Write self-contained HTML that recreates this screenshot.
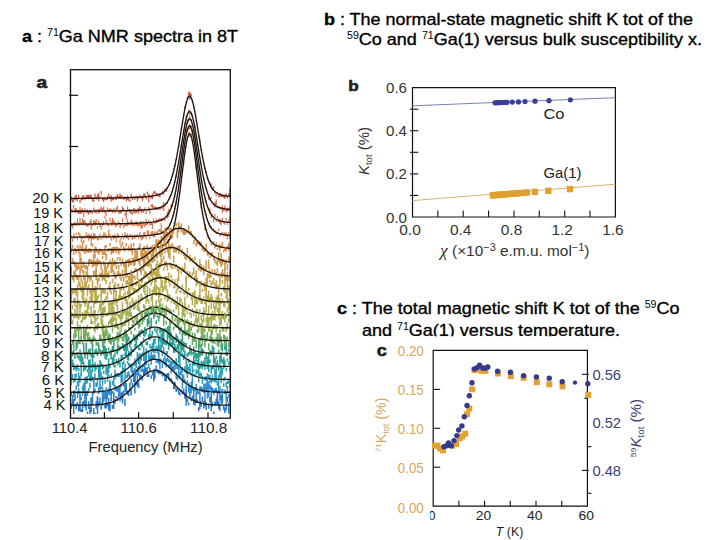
<!DOCTYPE html>
<html><head><meta charset="utf-8"><style>
html,body{margin:0;padding:0;background:#fff;}
svg{display:block;font-family:"Liberation Sans", sans-serif;}
</style></head><body>
<svg width="720" height="540" viewBox="0 0 720 540">
<defs><clipPath id="clipA"><rect x="70" y="60" width="161" height="354"/></clipPath></defs>
<text x="22" y="41.7" font-size="17" stroke="#000" stroke-width="0.35" textLength="216" lengthAdjust="spacingAndGlyphs"><tspan font-weight="bold">a</tspan> : <tspan font-size="10" dy="-6" stroke-width="0">71</tspan><tspan dy="6">Ga NMR spectra in 8T</tspan></text>
<text x="324" y="25" font-size="17" stroke="#000" stroke-width="0.35" textLength="369" lengthAdjust="spacingAndGlyphs"><tspan font-weight="bold">b</tspan> : The normal-state magnetic shift K tot of the</text>
<text x="347" y="45.2" font-size="17" stroke="#000" stroke-width="0.35" textLength="355" lengthAdjust="spacingAndGlyphs"><tspan font-size="10" dy="-6" stroke-width="0">59</tspan><tspan dy="6">Co and </tspan><tspan font-size="10" dy="-6" stroke-width="0">71</tspan><tspan dy="6">Ga(1) versus bulk susceptibility x.</tspan></text>
<text x="337" y="314.2" font-size="17" stroke="#000" stroke-width="0.35" textLength="342.5" lengthAdjust="spacingAndGlyphs"><tspan font-weight="bold">c</tspan> : The total magnetic shift K tot of the <tspan font-size="10" dy="-6" stroke-width="0">59</tspan><tspan dy="6">Co</tspan></text>
<text x="362" y="335.6" font-size="17" stroke="#000" stroke-width="0.35" textLength="258" lengthAdjust="spacingAndGlyphs">and <tspan font-size="10" dy="-6" stroke-width="0">71</tspan><tspan dy="6">Ga(1) versus temperature.</tspan></text>
<g clip-path="url(#clipA)">
<path d="M71.2,196.4V200.8M72.5,198.4V202.3M73.7,199.3V202.6M75.0,195.7V200.0M76.2,194.3V200.4M77.5,198.9V201.6M78.7,194.9V198.4M80.0,199.7V202.9M81.2,197.8V200.5M82.5,195.6V200.1M83.7,195.2V198.0M85.0,197.3V200.3M86.2,194.7V198.4M87.5,194.7V198.1M88.7,194.7V199.3M90.0,194.4V198.1M91.2,195.0V199.2M92.5,198.6V201.3M93.7,199.2V202.0M95.0,193.4V197.4M96.2,196.7V199.6M97.5,194.3V197.6M98.7,193.3V201.2M100.0,196.2V198.9M101.2,190.9V194.8M102.5,197.6V200.4M103.7,197.3V201.9M105.0,197.4V199.9M106.2,198.1V200.5M107.5,196.1V199.9M108.7,193.4V196.5M110.0,196.6V199.3M111.2,194.9V201.8M112.5,197.6V200.3M113.7,198.2V200.6M115.0,196.7V199.3M116.2,195.8V200.1M117.5,194.1V198.0M118.7,196.0V198.7M120.0,193.2V198.7M121.2,194.9V199.3M122.5,195.7V198.3M123.7,196.9V200.2M125.0,196.6V198.9M126.2,197.8V201.6M127.5,195.4V199.9M128.7,196.4V200.8M129.9,199.5V201.9M131.2,193.4V198.1M132.4,197.6V200.2M133.7,196.2V198.4M134.9,196.5V200.0M136.2,195.7V198.3M137.4,196.6V201.7M138.7,197.0V199.3M139.9,194.4V197.5M141.2,196.3V198.4M142.4,196.6V201.3M143.7,193.6V198.4M144.9,193.5V196.6M146.2,196.0V199.5M147.4,191.5V194.6M148.7,194.0V202.4M149.9,195.3V197.5M151.2,195.7V198.5M152.4,193.6V199.3M153.7,191.4V193.7M154.9,190.7V194.1M156.2,193.0V195.4M157.4,193.2V195.5M158.7,194.3V196.7M159.9,193.2V197.3M161.2,193.6V195.3M162.4,191.1V194.1M163.7,191.7V194.8M164.9,188.7V191.3M166.2,189.0V191.9M167.4,186.9V189.3M168.7,184.4V185.9M169.9,182.3V183.7M171.2,179.2V180.8M172.4,174.7V176.4M173.7,168.3V169.3M174.9,164.7V166.7M176.2,158.8V159.8M177.4,152.5V153.3M178.7,145.9V147.2M179.9,136.8V138.1M181.2,127.4V129.7M182.4,121.5V122.8M183.7,113.9V115.6M184.9,105.8V108.9M186.2,101.3V102.5M187.4,96.5V99.0M188.7,91.5V97.3M189.9,92.2V100.3M191.2,93.5V96.1M192.4,101.1V102.3M193.7,106.6V107.6M194.9,110.4V111.3M196.2,120.1V121.4M197.4,128.1V129.2M198.7,135.3V137.5M199.9,139.0V142.7M201.2,150.0V151.1M202.4,156.2V157.3M203.7,162.2V163.2M204.9,167.8V169.0M206.2,171.1V172.7M207.4,177.4V180.1M208.7,181.4V183.3M209.9,183.0V184.5M211.2,183.5V188.4M212.4,188.0V190.3M213.7,186.2V189.1M214.9,192.6V194.2M216.2,194.5V196.6M217.4,191.7V194.4M218.7,195.6V197.6M219.9,193.1V196.7M221.2,193.9V196.9M222.4,194.4V197.2M223.7,195.0V197.8M224.9,194.5V199.1M226.2,193.6V196.9M227.4,196.3V198.7M228.7,193.5V196.0M229.9,188.4V197.2" fill="none" stroke="#d45a40" stroke-width="1.2"/>
<polyline points="70.5,198.3 71.5,198.3 72.5,198.3 73.5,198.3 74.5,198.3 75.5,198.3 76.5,198.3 77.5,198.3 78.5,198.3 79.5,198.3 80.5,198.3 81.5,198.3 82.5,198.3 83.5,198.3 84.5,198.3 85.5,198.2 86.5,198.2 87.5,198.2 88.5,198.2 89.5,198.2 90.5,198.2 91.5,198.2 92.5,198.2 93.5,198.2 94.5,198.2 95.5,198.2 96.5,198.2 97.5,198.2 98.5,198.1 99.5,198.1 100.5,198.1 101.5,198.1 102.5,198.1 103.5,198.1 104.5,198.1 105.5,198.1 106.5,198.1 107.5,198.0 108.5,198.0 109.5,198.0 110.5,198.0 111.5,198.0 112.5,198.0 113.5,197.9 114.5,197.9 115.5,197.9 116.5,197.9 117.5,197.9 118.5,197.9 119.5,197.8 120.5,197.8 121.5,197.8 122.5,197.8 123.5,197.7 124.5,197.7 125.5,197.7 126.5,197.7 127.5,197.6 128.5,197.6 129.5,197.6 130.5,197.5 131.5,197.5 132.5,197.5 133.5,197.4 134.5,197.4 135.5,197.3 136.5,197.3 137.5,197.2 138.5,197.2 139.5,197.1 140.5,197.1 141.5,197.0 142.5,197.0 143.5,196.9 144.5,196.8 145.5,196.7 146.5,196.7 147.5,196.6 148.5,196.5 149.5,196.4 150.5,196.3 151.5,196.1 152.5,196.0 153.5,195.9 154.5,195.7 155.5,195.5 156.5,195.3 157.5,195.0 158.5,194.7 159.5,194.4 160.5,194.0 161.5,193.5 162.5,192.9 163.5,192.2 164.5,191.3 165.5,190.3 166.5,189.0 167.5,187.5 168.5,185.8 169.5,183.7 170.5,181.2 171.5,178.4 172.5,175.2 173.5,171.5 174.5,167.4 175.5,162.9 176.5,157.9 177.5,152.5 178.5,146.9 179.5,140.9 180.5,134.7 181.5,128.5 182.5,122.4 183.5,116.5 184.5,111.0 185.5,106.1 186.5,102.0 187.5,98.9 188.5,96.9 189.5,96.1 190.5,96.6 191.5,98.4 192.5,101.3 193.5,105.2 194.5,110.0 195.5,115.4 196.5,121.2 197.5,127.3 198.5,133.5 199.5,139.7 200.5,145.7 201.5,151.4 202.5,156.9 203.5,161.9 204.5,166.5 205.5,170.7 206.5,174.5 207.5,177.8 208.5,180.7 209.5,183.2 210.5,185.4 211.5,187.2 212.5,188.7 213.5,190.0 214.5,191.1 215.5,192.0 216.5,192.8 217.5,193.4 218.5,193.9 219.5,194.3 220.5,194.7 221.5,195.0 222.5,195.2 223.5,195.5 224.5,195.7 225.5,195.8 226.5,196.0 227.5,196.1 228.5,196.2 229.5,196.3 230.5,196.5" fill="none" stroke="#1e1410" stroke-width="1.35"/>
<path d="M71.2,208.9V212.3M72.5,209.2V212.5M73.7,204.9V208.6M75.0,207.9V213.1M76.2,208.3V212.5M77.5,210.6V213.2M78.7,209.9V213.9M80.0,207.1V213.9M81.2,209.6V214.2M82.5,208.6V212.8M83.7,210.7V217.3M85.0,208.2V211.9M86.2,209.9V213.3M87.5,209.2V213.0M88.7,211.3V215.1M90.0,209.8V213.4M91.2,210.0V212.9M92.5,211.5V214.3M93.7,207.6V211.1M95.0,209.5V212.8M96.2,209.8V213.7M97.5,209.3V211.9M98.7,209.0V213.7M100.0,208.7V212.8M101.2,206.6V210.9M102.5,208.3V212.5M103.7,206.5V210.8M105.0,210.1V213.5M106.2,212.6V215.8M107.5,207.4V209.9M108.7,209.6V212.2M110.0,208.2V210.9M111.2,209.0V211.7M112.5,209.7V213.0M113.7,208.2V211.9M115.0,210.5V213.6M116.2,207.4V211.3M117.5,205.7V209.8M118.7,210.7V213.4M120.0,209.2V213.6M121.2,210.3V213.6M122.5,206.3V210.7M123.7,208.1V210.5M125.0,212.9V215.4M126.2,209.9V219.2M127.5,206.5V211.7M128.7,208.9V211.2M129.9,208.9V213.2M131.2,211.1V213.8M132.4,212.2V214.7M133.7,208.1V213.1M134.9,208.8V213.7M136.2,210.4V213.0M137.4,208.8V212.5M138.7,207.4V214.1M139.9,205.9V210.2M141.2,208.5V213.2M142.4,209.5V212.1M143.7,209.9V212.9M144.9,207.3V210.6M146.2,211.2V214.1M147.4,209.0V211.2M148.7,207.1V210.5M149.9,208.2V213.8M151.2,204.8V207.0M152.4,203.9V208.1M153.7,206.6V208.7M154.9,206.1V208.4M156.2,207.1V210.5M157.4,207.3V209.8M158.7,207.7V209.6M159.9,206.8V210.1M161.2,206.8V209.0M162.4,205.2V208.4M163.7,202.1V211.1M164.9,204.9V206.7M166.2,202.3V204.8M167.4,201.7V204.1M168.7,198.1V199.8M169.9,195.8V197.1M171.2,194.2V195.9M172.4,191.3V192.3M173.7,185.5V186.9M174.9,181.2V182.5M176.2,174.7V177.6M177.4,168.6V169.6M178.7,161.1V162.9M179.9,154.3V155.5M181.2,144.6V147.6M182.4,138.4V139.7M183.7,129.5V131.0M184.9,122.6V124.1M186.2,115.8V119.2M187.4,113.2V114.7M188.7,109.5V111.8M189.9,111.5V114.9M191.2,112.8V114.4M192.4,114.7V116.4M193.7,121.2V122.2M194.9,125.1V129.0M196.2,134.5V136.4M197.4,143.2V146.0M198.7,150.5V151.5M199.9,157.2V158.4M201.2,163.6V164.6M202.4,172.8V173.7M203.7,177.6V178.8M204.9,182.6V184.0M206.2,188.6V190.0M207.4,192.4V194.3M208.7,195.0V199.7M209.9,198.7V200.5M211.2,197.5V198.9M212.4,201.8V203.6M213.7,203.9V205.5M214.9,202.1V207.8M216.2,199.5V205.4M217.4,206.2V208.0M218.7,206.0V208.3M219.9,206.4V209.2M221.2,207.3V209.2M222.4,205.3V212.7M223.7,207.4V211.0M224.9,205.3V210.6M226.2,208.8V212.4M227.4,207.5V211.5M228.7,208.0V210.8M229.9,206.0V211.7" fill="none" stroke="#d86848" stroke-width="1.2"/>
<polyline points="70.5,211.3 71.5,211.3 72.5,211.3 73.5,211.3 74.5,211.2 75.5,211.2 76.5,211.2 77.5,211.2 78.5,211.2 79.5,211.2 80.5,211.2 81.5,211.2 82.5,211.2 83.5,211.2 84.5,211.2 85.5,211.2 86.5,211.2 87.5,211.2 88.5,211.2 89.5,211.2 90.5,211.2 91.5,211.1 92.5,211.1 93.5,211.1 94.5,211.1 95.5,211.1 96.5,211.1 97.5,211.1 98.5,211.1 99.5,211.1 100.5,211.1 101.5,211.1 102.5,211.1 103.5,211.0 104.5,211.0 105.5,211.0 106.5,211.0 107.5,211.0 108.5,211.0 109.5,211.0 110.5,211.0 111.5,210.9 112.5,210.9 113.5,210.9 114.5,210.9 115.5,210.9 116.5,210.9 117.5,210.8 118.5,210.8 119.5,210.8 120.5,210.8 121.5,210.8 122.5,210.7 123.5,210.7 124.5,210.7 125.5,210.7 126.5,210.7 127.5,210.6 128.5,210.6 129.5,210.6 130.5,210.5 131.5,210.5 132.5,210.5 133.5,210.4 134.5,210.4 135.5,210.4 136.5,210.3 137.5,210.3 138.5,210.2 139.5,210.2 140.5,210.1 141.5,210.1 142.5,210.0 143.5,209.9 144.5,209.9 145.5,209.8 146.5,209.7 147.5,209.6 148.5,209.6 149.5,209.5 150.5,209.4 151.5,209.3 152.5,209.1 153.5,209.0 154.5,208.9 155.5,208.7 156.5,208.5 157.5,208.3 158.5,208.0 159.5,207.7 160.5,207.4 161.5,207.0 162.5,206.5 163.5,205.8 164.5,205.1 165.5,204.2 166.5,203.1 167.5,201.8 168.5,200.2 169.5,198.3 170.5,196.1 171.5,193.5 172.5,190.5 173.5,187.0 174.5,183.1 175.5,178.7 176.5,173.9 177.5,168.6 178.5,163.0 179.5,157.1 180.5,150.9 181.5,144.7 182.5,138.5 183.5,132.5 184.5,126.8 185.5,121.8 186.5,117.6 187.5,114.3 188.5,112.2 189.5,111.4 190.5,112.0 191.5,113.8 192.5,116.8 193.5,120.9 194.5,125.8 195.5,131.3 196.5,137.3 197.5,143.4 198.5,149.7 199.5,155.9 200.5,161.9 201.5,167.5 202.5,172.9 203.5,177.8 204.5,182.2 205.5,186.3 206.5,189.8 207.5,192.9 208.5,195.6 209.5,197.9 210.5,199.8 211.5,201.5 212.5,202.9 213.5,204.0 214.5,204.9 215.5,205.7 216.5,206.3 217.5,206.9 218.5,207.3 219.5,207.7 220.5,208.0 221.5,208.2 222.5,208.5 223.5,208.6 224.5,208.8 225.5,209.0 226.5,209.1 227.5,209.2 228.5,209.3 229.5,209.4 230.5,209.5" fill="none" stroke="#1e1410" stroke-width="1.35"/>
<path d="M71.2,223.1V226.4M72.5,224.0V228.5M73.7,223.1V225.9M75.0,221.4V224.1M76.2,222.8V226.1M77.5,218.4V224.4M78.7,222.7V225.9M80.0,217.7V225.1M81.2,222.6V225.4M82.5,218.2V224.4M83.7,220.1V225.5M85.0,220.6V224.6M86.2,223.1V226.3M87.5,223.7V226.8M88.7,222.9V226.3M90.0,220.7V224.6M91.2,219.0V229.7M92.5,223.4V226.3M93.7,220.1V224.6M95.0,220.9V225.8M96.2,219.1V224.0M97.5,226.2V228.8M98.7,220.5V224.2M100.0,223.4V227.0M101.2,225.8V229.5M102.5,222.8V226.2M103.7,220.9V225.1M105.0,215.6V218.7M106.2,219.3V224.7M107.5,222.4V225.7M108.7,223.8V226.3M110.0,217.7V222.1M111.2,221.8V225.7M112.5,217.9V225.5M113.7,219.8V223.0M115.0,221.7V226.0M116.2,223.7V227.2M117.5,222.7V225.3M118.7,221.2V224.2M120.0,225.0V228.0M121.2,223.0V225.9M122.5,218.3V222.6M123.7,224.5V228.0M125.0,223.2V225.7M126.2,222.4V226.5M127.5,219.3V226.0M128.7,222.4V224.7M129.9,222.4V224.8M131.2,219.4V225.5M132.4,221.6V225.4M133.7,223.6V226.4M134.9,221.7V225.3M136.2,221.3V225.3M137.4,222.6V226.0M138.7,223.8V226.4M139.9,221.7V225.7M141.2,220.7V229.1M142.4,224.7V228.0M143.7,221.0V225.6M144.9,224.0V227.3M146.2,218.9V225.2M147.4,222.2V225.1M148.7,220.2V222.2M149.9,222.4V226.1M151.2,223.0V225.1M152.4,223.1V228.9M153.7,218.6V221.2M154.9,220.9V223.9M156.2,218.6V223.0M157.4,219.9V222.4M158.7,218.5V222.0M159.9,218.2V221.1M161.2,218.3V221.2M162.4,217.9V220.8M163.7,217.5V219.6M164.9,218.8V221.5M166.2,215.4V217.4M167.4,212.0V218.4M168.7,208.7V217.0M169.9,209.9V211.3M171.2,203.9V208.1M172.4,205.1V206.9M173.7,199.9V201.4M174.9,196.1V196.9M176.2,187.9V188.8M177.4,181.3V182.4M178.7,172.5V174.1M179.9,166.0V167.0M181.2,155.4V156.5M182.4,148.5V149.2M183.7,139.5V140.4M184.9,131.5V132.6M186.2,129.2V131.0M187.4,119.4V123.9M188.7,119.0V122.1M189.9,115.9V118.9M191.2,119.1V121.1M192.4,124.4V126.7M193.7,128.0V129.6M194.9,137.0V138.1M196.2,144.1V144.9M197.4,153.4V154.3M198.7,161.8V162.5M199.9,170.3V171.1M201.2,178.7V180.0M202.4,186.1V187.3M203.7,193.6V194.7M204.9,197.5V198.5M206.2,200.5V204.1M207.4,205.8V207.1M208.7,207.7V209.6M209.9,208.5V213.7M211.2,214.5V218.4M212.4,214.3V215.8M213.7,218.7V222.6M214.9,213.9V217.0M216.2,220.2V222.0M217.4,216.1V218.3M218.7,219.4V222.1M219.9,218.4V223.8M221.2,221.3V225.4M222.4,217.8V222.2M223.7,220.9V223.6M224.9,221.4V224.8M226.2,217.8V220.5M227.4,221.9V225.1M228.7,219.6V223.0M229.9,216.7V219.6" fill="none" stroke="#dc7448" stroke-width="1.2"/>
<polyline points="70.5,224.2 71.5,224.2 72.5,224.2 73.5,224.2 74.5,224.2 75.5,224.2 76.5,224.1 77.5,224.1 78.5,224.1 79.5,224.1 80.5,224.1 81.5,224.1 82.5,224.1 83.5,224.1 84.5,224.1 85.5,224.1 86.5,224.1 87.5,224.1 88.5,224.1 89.5,224.1 90.5,224.1 91.5,224.1 92.5,224.1 93.5,224.0 94.5,224.0 95.5,224.0 96.5,224.0 97.5,224.0 98.5,224.0 99.5,224.0 100.5,224.0 101.5,224.0 102.5,224.0 103.5,224.0 104.5,223.9 105.5,223.9 106.5,223.9 107.5,223.9 108.5,223.9 109.5,223.9 110.5,223.9 111.5,223.9 112.5,223.8 113.5,223.8 114.5,223.8 115.5,223.8 116.5,223.8 117.5,223.8 118.5,223.7 119.5,223.7 120.5,223.7 121.5,223.7 122.5,223.7 123.5,223.6 124.5,223.6 125.5,223.6 126.5,223.6 127.5,223.5 128.5,223.5 129.5,223.5 130.5,223.5 131.5,223.4 132.5,223.4 133.5,223.3 134.5,223.3 135.5,223.3 136.5,223.2 137.5,223.2 138.5,223.1 139.5,223.1 140.5,223.0 141.5,223.0 142.5,222.9 143.5,222.9 144.5,222.8 145.5,222.7 146.5,222.6 147.5,222.6 148.5,222.5 149.5,222.4 150.5,222.3 151.5,222.2 152.5,222.1 153.5,221.9 154.5,221.8 155.5,221.6 156.5,221.5 157.5,221.2 158.5,221.0 159.5,220.7 160.5,220.4 161.5,220.0 162.5,219.6 163.5,219.0 164.5,218.3 165.5,217.5 166.5,216.4 167.5,215.2 168.5,213.7 169.5,211.8 170.5,209.7 171.5,207.1 172.5,204.0 173.5,200.5 174.5,196.5 175.5,192.0 176.5,186.9 177.5,181.4 178.5,175.4 179.5,169.0 180.5,162.4 181.5,155.5 182.5,148.7 183.5,142.1 184.5,135.8 185.5,130.2 186.5,125.4 187.5,121.8 188.5,119.4 189.5,118.5 190.5,119.1 191.5,121.2 192.5,124.6 193.5,129.2 194.5,134.6 195.5,140.8 196.5,147.4 197.5,154.2 198.5,161.0 199.5,167.7 200.5,174.1 201.5,180.2 202.5,185.9 203.5,191.0 204.5,195.7 205.5,199.8 206.5,203.4 207.5,206.5 208.5,209.2 209.5,211.4 210.5,213.3 211.5,214.9 212.5,216.2 213.5,217.3 214.5,218.2 215.5,218.9 216.5,219.5 217.5,219.9 218.5,220.3 219.5,220.7 220.5,221.0 221.5,221.2 222.5,221.4 223.5,221.6 224.5,221.8 225.5,221.9 226.5,222.0 227.5,222.2 228.5,222.3 229.5,222.4 230.5,222.5" fill="none" stroke="#1e1410" stroke-width="1.35"/>
<path d="M71.2,235.5V238.7M72.5,237.5V241.7M73.7,233.4V238.3M75.0,236.1V238.9M76.2,232.7V235.4M77.5,236.6V240.2M78.7,231.9V235.3M80.0,233.5V236.5M81.2,237.3V242.0M82.5,236.2V239.1M83.7,239.7V243.2M85.0,236.3V238.9M86.2,232.1V236.9M87.5,234.8V238.1M88.7,233.7V240.8M90.0,235.1V239.0M91.2,233.6V246.0M92.5,236.3V239.5M93.7,232.9V239.8M95.0,233.5V238.7M96.2,236.5V239.1M97.5,236.4V240.4M98.7,236.0V240.2M100.0,233.2V237.5M101.2,236.2V240.0M102.5,235.2V237.6M103.7,232.6V238.7M105.0,232.4V237.1M106.2,234.8V238.8M107.5,235.7V238.1M108.7,229.4V237.7M110.0,233.7V237.0M111.2,236.9V240.8M112.5,234.9V237.8M113.7,235.2V239.7M115.0,234.3V237.9M116.2,237.8V242.0M117.5,233.0V237.5M118.7,234.5V238.2M120.0,239.5V244.3M121.2,236.0V239.7M122.5,234.0V236.6M123.7,236.9V239.5M125.0,232.1V236.7M126.2,235.1V238.4M127.5,233.2V238.6M128.7,236.7V240.0M129.9,234.1V236.8M131.2,235.1V237.8M132.4,235.0V240.1M133.7,236.0V238.6M134.9,234.8V239.0M136.2,235.4V237.6M137.4,233.9V237.0M138.7,236.5V239.1M139.9,232.0V237.1M141.2,236.8V240.4M142.4,235.9V239.3M143.7,232.2V238.4M144.9,232.1V235.7M146.2,236.7V239.2M147.4,230.1V235.2M148.7,230.7V234.5M149.9,235.8V239.2M151.2,231.4V235.7M152.4,230.9V234.5M153.7,232.7V238.0M154.9,231.0V236.7M156.2,232.2V234.1M157.4,231.1V235.1M158.7,229.1V231.5M159.9,229.5V232.2M161.2,223.3V233.6M162.4,230.6V233.2M163.7,231.1V236.0M164.9,228.1V230.7M166.2,227.2V229.9M167.4,226.7V228.4M168.7,227.6V229.7M169.9,223.1V225.2M171.2,220.8V222.6M172.4,217.3V218.6M173.7,211.5V214.6M174.9,208.1V209.2M176.2,201.3V203.4M177.4,193.6V195.2M178.7,187.9V188.6M179.9,176.8V177.5M181.2,169.4V171.9M182.4,157.6V158.5M183.7,149.5V150.7M184.9,143.6V144.3M186.2,133.9V135.6M187.4,129.4V131.4M188.7,126.4V130.1M189.9,124.6V129.2M191.2,125.2V129.0M192.4,129.8V135.2M193.7,139.7V141.3M194.9,146.0V146.9M196.2,155.0V155.7M197.4,164.3V166.5M198.7,174.2V175.0M199.9,182.0V183.2M201.2,190.1V193.1M202.4,197.8V200.2M203.7,203.0V204.1M204.9,210.5V211.8M206.2,213.6V215.6M207.4,218.7V221.6M208.7,222.9V224.8M209.9,226.7V227.9M211.2,225.7V228.1M212.4,228.7V230.4M213.7,228.1V231.3M214.9,229.9V232.8M216.2,231.4V234.1M217.4,231.8V233.5M218.7,228.6V231.3M219.9,233.5V236.6M221.2,232.9V235.5M222.4,231.9V233.7M223.7,232.8V236.6M224.9,232.2V235.9M226.2,232.2V236.4M227.4,233.9V239.5M228.7,232.3V236.1M229.9,234.8V238.9" fill="none" stroke="#e0804a" stroke-width="1.2"/>
<polyline points="70.5,237.1 71.5,237.1 72.5,237.1 73.5,237.1 74.5,237.1 75.5,237.1 76.5,237.1 77.5,237.1 78.5,237.1 79.5,237.0 80.5,237.0 81.5,237.0 82.5,237.0 83.5,237.0 84.5,237.0 85.5,237.0 86.5,237.0 87.5,237.0 88.5,237.0 89.5,237.0 90.5,237.0 91.5,237.0 92.5,237.0 93.5,237.0 94.5,237.0 95.5,236.9 96.5,236.9 97.5,236.9 98.5,236.9 99.5,236.9 100.5,236.9 101.5,236.9 102.5,236.9 103.5,236.9 104.5,236.9 105.5,236.9 106.5,236.8 107.5,236.8 108.5,236.8 109.5,236.8 110.5,236.8 111.5,236.8 112.5,236.8 113.5,236.7 114.5,236.7 115.5,236.7 116.5,236.7 117.5,236.7 118.5,236.7 119.5,236.6 120.5,236.6 121.5,236.6 122.5,236.6 123.5,236.6 124.5,236.5 125.5,236.5 126.5,236.5 127.5,236.5 128.5,236.4 129.5,236.4 130.5,236.4 131.5,236.3 132.5,236.3 133.5,236.3 134.5,236.2 135.5,236.2 136.5,236.2 137.5,236.1 138.5,236.1 139.5,236.0 140.5,236.0 141.5,235.9 142.5,235.8 143.5,235.8 144.5,235.7 145.5,235.7 146.5,235.6 147.5,235.5 148.5,235.4 149.5,235.3 150.5,235.2 151.5,235.1 152.5,235.0 153.5,234.9 154.5,234.7 155.5,234.6 156.5,234.4 157.5,234.2 158.5,234.0 159.5,233.8 160.5,233.5 161.5,233.1 162.5,232.7 163.5,232.2 164.5,231.5 165.5,230.8 166.5,229.8 167.5,228.6 168.5,227.2 169.5,225.5 170.5,223.3 171.5,220.8 172.5,217.8 173.5,214.3 174.5,210.2 175.5,205.5 176.5,200.3 177.5,194.5 178.5,188.1 179.5,181.3 180.5,174.1 181.5,166.7 182.5,159.3 183.5,151.9 184.5,145.0 185.5,138.7 186.5,133.4 187.5,129.3 188.5,126.7 189.5,125.6 190.5,126.3 191.5,128.7 192.5,132.5 193.5,137.6 194.5,143.7 195.5,150.5 196.5,157.8 197.5,165.2 198.5,172.7 199.5,179.9 200.5,186.8 201.5,193.2 202.5,199.2 203.5,204.5 204.5,209.3 205.5,213.5 206.5,217.1 207.5,220.2 208.5,222.9 209.5,225.1 210.5,226.9 211.5,228.4 212.5,229.6 213.5,230.6 214.5,231.4 215.5,232.0 216.5,232.6 217.5,233.0 218.5,233.4 219.5,233.7 220.5,234.0 221.5,234.2 222.5,234.4 223.5,234.6 224.5,234.7 225.5,234.8 226.5,235.0 227.5,235.1 228.5,235.2 229.5,235.3 230.5,235.4" fill="none" stroke="#1e1410" stroke-width="1.35"/>
<path d="M71.2,248.6V252.5M72.5,244.7V248.8M73.7,251.3V255.1M75.0,247.7V250.9M76.2,248.8V253.4M77.5,245.0V248.1M78.7,247.5V253.8M80.0,245.1V247.6M81.2,246.7V250.2M82.5,241.3V251.4M83.7,249.1V252.0M85.0,247.5V254.1M86.2,244.7V252.5M87.5,249.8V252.7M88.7,248.5V253.1M90.0,248.3V252.1M91.2,249.1V252.7M92.5,243.4V246.5M93.7,250.2V253.1M95.0,246.4V258.4M96.2,247.4V251.8M97.5,249.4V252.9M98.7,250.0V254.8M100.0,248.4V252.4M101.2,249.1V251.4M102.5,250.1V255.1M103.7,251.5V255.1M105.0,245.7V254.9M106.2,244.9V247.4M107.5,248.7V252.0M108.7,248.1V250.7M110.0,243.0V246.1M111.2,247.8V254.5M112.5,246.9V253.5M113.7,246.9V252.8M115.0,246.9V250.0M116.2,246.6V253.1M117.5,246.9V251.2M118.7,247.7V254.8M120.0,248.2V251.8M121.2,243.9V247.8M122.5,241.6V245.3M123.7,246.2V249.0M125.0,247.5V251.8M126.2,243.0V246.5M127.5,248.3V250.7M128.7,245.7V251.3M129.9,247.7V251.1M131.2,243.5V251.6M132.4,248.3V255.2M133.7,242.9V246.5M134.9,250.1V253.6M136.2,250.7V254.0M137.4,249.5V253.2M138.7,247.0V249.4M139.9,243.6V249.0M141.2,250.7V254.5M142.4,249.2V252.7M143.7,246.3V251.5M144.9,246.0V248.6M146.2,250.5V252.7M147.4,244.7V248.2M148.7,247.9V250.0M149.9,247.3V249.2M151.2,246.5V248.5M152.4,244.8V250.9M153.7,249.7V256.4M154.9,244.0V248.0M156.2,244.5V248.0M157.4,242.1V247.8M158.7,246.1V248.6M159.9,246.6V248.6M161.2,241.2V244.4M162.4,243.9V254.7M163.7,241.8V243.7M164.9,244.0V246.4M166.2,238.0V240.3M167.4,240.2V243.8M168.7,239.1V247.4M169.9,238.8V240.0M171.2,233.1V239.2M172.4,233.0V235.2M173.7,222.7V223.6M174.9,223.6V224.9M176.2,214.5V215.8M177.4,207.9V208.6M178.7,200.2V201.0M179.9,191.3V192.3M181.2,180.9V181.5M182.4,171.1V171.9M183.7,162.0V164.6M184.9,151.6V152.8M186.2,146.5V147.5M187.4,135.9V137.1M188.7,131.8V136.0M189.9,134.6V137.4M191.2,133.3V135.6M192.4,140.2V142.3M193.7,148.8V149.9M194.9,156.7V157.9M196.2,164.9V169.6M197.4,176.6V177.7M198.7,185.8V186.7M199.9,196.1V197.4M201.2,202.2V208.4M202.4,212.6V213.5M203.7,219.3V220.1M204.9,223.4V230.0M206.2,228.7V230.8M207.4,234.2V237.8M208.7,238.1V239.3M209.9,240.2V242.5M211.2,243.2V245.2M212.4,242.8V244.6M213.7,241.1V243.0M214.9,245.9V248.4M216.2,242.4V246.9M217.4,247.9V250.1M218.7,244.8V247.2M219.9,244.1V251.4M221.2,245.8V248.0M222.4,241.7V248.2M223.7,249.7V252.5M224.9,248.3V251.0M226.2,248.0V251.4M227.4,245.7V248.8M228.7,242.8V250.6M229.9,245.5V247.6" fill="none" stroke="#dc8c48" stroke-width="1.5"/>
<polyline points="70.5,250.0 71.5,250.0 72.5,250.0 73.5,250.0 74.5,250.0 75.5,250.0 76.5,250.0 77.5,250.0 78.5,250.0 79.5,250.0 80.5,250.0 81.5,250.0 82.5,250.0 83.5,249.9 84.5,249.9 85.5,249.9 86.5,249.9 87.5,249.9 88.5,249.9 89.5,249.9 90.5,249.9 91.5,249.9 92.5,249.9 93.5,249.9 94.5,249.9 95.5,249.9 96.5,249.9 97.5,249.9 98.5,249.8 99.5,249.8 100.5,249.8 101.5,249.8 102.5,249.8 103.5,249.8 104.5,249.8 105.5,249.8 106.5,249.8 107.5,249.8 108.5,249.7 109.5,249.7 110.5,249.7 111.5,249.7 112.5,249.7 113.5,249.7 114.5,249.7 115.5,249.6 116.5,249.6 117.5,249.6 118.5,249.6 119.5,249.6 120.5,249.6 121.5,249.5 122.5,249.5 123.5,249.5 124.5,249.5 125.5,249.4 126.5,249.4 127.5,249.4 128.5,249.4 129.5,249.3 130.5,249.3 131.5,249.3 132.5,249.2 133.5,249.2 134.5,249.2 135.5,249.1 136.5,249.1 137.5,249.1 138.5,249.0 139.5,249.0 140.5,248.9 141.5,248.9 142.5,248.8 143.5,248.7 144.5,248.7 145.5,248.6 146.5,248.5 147.5,248.5 148.5,248.4 149.5,248.3 150.5,248.2 151.5,248.1 152.5,248.0 153.5,247.8 154.5,247.7 155.5,247.6 156.5,247.4 157.5,247.2 158.5,247.0 159.5,246.8 160.5,246.5 161.5,246.2 162.5,245.8 163.5,245.4 164.5,244.8 165.5,244.1 166.5,243.2 167.5,242.2 168.5,240.9 169.5,239.2 170.5,237.2 171.5,234.8 172.5,231.9 173.5,228.4 174.5,224.4 175.5,219.7 176.5,214.3 177.5,208.3 178.5,201.7 179.5,194.5 180.5,186.9 181.5,178.9 182.5,170.9 183.5,162.9 184.5,155.3 185.5,148.4 186.5,142.5 187.5,137.9 188.5,135.0 189.5,133.8 190.5,134.6 191.5,137.2 192.5,141.5 193.5,147.2 194.5,153.9 195.5,161.4 196.5,169.3 197.5,177.3 198.5,185.3 199.5,193.0 200.5,200.3 201.5,207.0 202.5,213.2 203.5,218.6 204.5,223.5 205.5,227.7 206.5,231.2 207.5,234.3 208.5,236.8 209.5,238.9 210.5,240.6 211.5,241.9 212.5,243.0 213.5,243.9 214.5,244.7 215.5,245.3 216.5,245.7 217.5,246.1 218.5,246.5 219.5,246.7 220.5,247.0 221.5,247.2 222.5,247.4 223.5,247.5 224.5,247.7 225.5,247.8 226.5,247.9 227.5,248.1 228.5,248.2 229.5,248.3 230.5,248.4" fill="none" stroke="#1e1410" stroke-width="1.35"/>
<path d="M71.2,266.5V271.4M72.5,257.9V263.3M73.7,260.8V264.4M75.0,262.4V267.4M76.2,263.1V271.3M77.5,265.5V270.3M78.7,263.8V269.1M80.0,252.3V262.2M81.2,258.0V270.8M82.5,265.2V268.3M83.7,261.2V266.9M85.0,265.5V269.1M86.2,265.1V269.2M87.5,265.9V271.7M88.7,259.6V266.1M90.0,258.8V262.4M91.2,259.2V263.8M92.5,260.8V267.2M93.7,254.0V266.4M95.0,260.5V265.5M96.2,260.5V273.1M97.5,257.7V266.1M98.7,260.0V264.3M100.0,260.7V264.6M101.2,261.7V270.6M102.5,255.7V259.3M103.7,260.9V265.5M105.0,262.5V269.7M106.2,253.5V260.5M107.5,263.1V268.4M108.7,262.0V266.6M110.0,259.8V263.3M111.2,261.7V268.2M112.5,257.8V264.2M113.7,263.2V266.2M115.0,260.0V265.0M116.2,264.4V269.2M117.5,257.1V260.8M118.7,265.0V269.5M120.0,257.1V261.1M121.2,261.6V265.8M122.5,258.5V262.4M123.7,263.0V266.7M125.0,263.0V268.1M126.2,259.7V274.9M127.5,259.8V262.9M128.7,258.8V267.2M129.9,258.5V264.9M131.2,262.3V265.4M132.4,257.7V262.7M133.7,257.4V266.2M134.9,254.6V265.4M136.2,253.7V260.0M137.4,252.9V261.2M138.7,258.5V261.4M139.9,259.2V265.9M141.2,248.2V258.6M142.4,251.8V261.2M143.7,252.9V255.9M144.9,250.3V258.0M146.2,251.7V258.6M147.4,251.6V260.6M148.7,249.5V253.6M149.9,251.8V254.5M151.2,249.0V251.7M152.4,247.1V256.6M153.7,248.4V251.4M154.9,246.5V249.5M156.2,242.5V244.7M157.4,240.6V245.7M158.7,239.4V243.2M159.9,239.7V244.5M161.2,235.7V248.0M162.4,236.9V240.2M163.7,234.4V240.9M164.9,230.4V243.7M166.2,230.8V237.4M167.4,231.8V238.1M168.7,233.7V237.1M169.9,228.1V235.5M171.2,227.6V235.8M172.4,229.9V238.5M173.7,230.3V233.6M174.9,226.4V229.0M176.2,223.2V226.1M177.4,228.1V238.0M178.7,221.7V232.2M179.9,226.4V229.5M181.2,223.6V231.4M182.4,230.2V233.2M183.7,228.5V234.9M184.9,229.6V234.9M186.2,230.8V233.2M187.4,231.2V233.7M188.7,225.2V231.2M189.9,230.9V235.0M191.2,231.1V234.8M192.4,234.2V237.4M193.7,240.5V244.3M194.9,235.9V241.4M196.2,242.1V246.7M197.4,240.0V244.7M198.7,241.4V244.4M199.9,241.3V245.7M201.2,242.3V246.4M202.4,245.4V250.6M203.7,248.0V251.4M204.9,249.6V252.2M206.2,243.8V250.9M207.4,252.1V255.6M208.7,252.0V255.6M209.9,255.6V258.2M211.2,252.4V256.5M212.4,252.3V257.2M213.7,256.4V260.5M214.9,258.4V262.8M216.2,261.8V264.6M217.4,257.6V266.0M218.7,251.9V261.8M219.9,260.4V264.1M221.2,252.7V267.3M222.4,259.0V265.2M223.7,258.8V261.5M224.9,260.6V270.2M226.2,259.3V263.8M227.4,263.7V270.1M228.7,256.6V261.5M229.9,258.0V262.7" fill="none" stroke="#d49448" stroke-width="1.5"/>
<polyline points="70.5,263.1 71.5,263.1 72.5,263.1 73.5,263.1 74.5,263.1 75.5,263.1 76.5,263.1 77.5,263.1 78.5,263.1 79.5,263.1 80.5,263.1 81.5,263.1 82.5,263.1 83.5,263.1 84.5,263.1 85.5,263.1 86.5,263.1 87.5,263.1 88.5,263.1 89.5,263.1 90.5,263.1 91.5,263.1 92.5,263.1 93.5,263.1 94.5,263.1 95.5,263.1 96.5,263.1 97.5,263.1 98.5,263.1 99.5,263.1 100.5,263.1 101.5,263.1 102.5,263.1 103.5,263.1 104.5,263.1 105.5,263.1 106.5,263.1 107.5,263.1 108.5,263.1 109.5,263.1 110.5,263.1 111.5,263.1 112.5,263.1 113.5,263.1 114.5,263.0 115.5,263.0 116.5,263.0 117.5,263.0 118.5,262.9 119.5,262.9 120.5,262.9 121.5,262.8 122.5,262.7 123.5,262.7 124.5,262.6 125.5,262.5 126.5,262.4 127.5,262.3 128.5,262.2 129.5,262.0 130.5,261.9 131.5,261.7 132.5,261.5 133.5,261.2 134.5,261.0 135.5,260.7 136.5,260.4 137.5,260.0 138.5,259.7 139.5,259.2 140.5,258.8 141.5,258.3 142.5,257.8 143.5,257.2 144.5,256.6 145.5,256.0 146.5,255.3 147.5,254.5 148.5,253.7 149.5,252.9 150.5,252.1 151.5,251.1 152.5,250.2 153.5,249.2 154.5,248.2 155.5,247.2 156.5,246.1 157.5,245.0 158.5,243.9 159.5,242.8 160.5,241.7 161.5,240.6 162.5,239.5 163.5,238.4 164.5,237.3 165.5,236.3 166.5,235.3 167.5,234.3 168.5,233.4 169.5,232.5 170.5,231.7 171.5,231.0 172.5,230.3 173.5,229.7 174.5,229.2 175.5,228.8 176.5,228.5 177.5,228.3 178.5,228.2 179.5,228.2 180.5,228.2 181.5,228.4 182.5,228.6 183.5,229.0 184.5,229.4 185.5,230.0 186.5,230.6 187.5,231.3 188.5,232.0 189.5,232.8 190.5,233.7 191.5,234.7 192.5,235.7 193.5,236.7 194.5,237.7 195.5,238.8 196.5,239.9 197.5,241.0 198.5,242.1 199.5,243.3 200.5,244.4 201.5,245.5 202.5,246.5 203.5,247.6 204.5,248.6 205.5,249.6 206.5,250.6 207.5,251.5 208.5,252.4 209.5,253.3 210.5,254.1 211.5,254.8 212.5,255.5 213.5,256.2 214.5,256.9 215.5,257.5 216.5,258.0 217.5,258.5 218.5,259.0 219.5,259.4 220.5,259.8 221.5,260.2 222.5,260.5 223.5,260.8 224.5,261.1 225.5,261.3 226.5,261.6 227.5,261.7 228.5,261.9 229.5,262.1 230.5,262.2" fill="none" stroke="#1e1410" stroke-width="1.35"/>
<path d="M71.2,270.8V275.9M72.5,276.1V280.1M73.7,271.2V282.4M75.0,270.4V275.8M76.2,274.0V279.3M77.5,274.9V280.0M78.7,275.1V280.8M80.0,266.2V277.6M81.2,277.4V281.7M82.5,269.7V273.0M83.7,270.1V279.7M85.0,276.2V285.4M86.2,271.2V275.4M87.5,272.0V282.7M88.7,274.9V278.9M90.0,275.9V281.4M91.2,277.1V280.1M92.5,280.0V284.4M93.7,271.0V276.8M95.0,270.5V274.7M96.2,268.9V280.2M97.5,278.6V285.1M98.7,277.1V281.5M100.0,272.9V276.9M101.2,272.5V277.5M102.5,269.8V280.9M103.7,274.1V279.5M105.0,266.2V281.1M106.2,267.0V275.3M107.5,272.9V277.9M108.7,270.8V278.4M110.0,281.7V284.9M111.2,267.6V273.3M112.5,263.8V272.2M113.7,270.2V274.8M115.0,272.6V279.5M116.2,274.7V278.0M117.5,271.0V275.3M118.7,270.3V274.9M120.0,272.9V278.5M121.2,277.5V281.3M122.5,269.6V277.3M123.7,276.7V282.2M125.0,266.9V276.5M126.2,275.5V278.5M127.5,273.1V276.9M128.7,276.0V280.4M129.9,274.6V277.7M131.2,270.1V275.0M132.4,273.4V286.3M133.7,275.5V278.0M134.9,268.2V271.8M136.2,268.2V271.9M137.4,270.6V279.8M138.7,261.0V263.6M139.9,268.6V271.8M141.2,269.0V274.9M142.4,266.1V269.5M143.7,258.1V271.3M144.9,257.4V266.6M146.2,262.7V266.3M147.4,261.2V266.4M148.7,256.5V267.4M149.9,262.0V265.8M151.2,253.8V262.2M152.4,256.8V262.9M153.7,258.1V261.2M154.9,259.1V261.6M156.2,238.8V258.8M157.4,255.1V258.3M158.7,251.6V254.0M159.9,246.2V256.5M161.2,249.8V257.2M162.4,246.9V252.1M163.7,242.6V245.5M164.9,249.6V253.3M166.2,243.3V248.1M167.4,248.7V252.8M168.7,245.9V257.6M169.9,245.6V259.4M171.2,244.4V249.6M172.4,243.1V246.5M173.7,246.2V252.8M174.9,246.8V252.0M176.2,247.7V252.6M177.4,246.1V250.8M178.7,245.7V253.8M179.9,245.0V249.4M181.2,251.9V254.3M182.4,249.1V252.6M183.7,252.0V256.0M184.9,254.1V258.9M186.2,256.5V260.5M187.4,247.7V255.9M188.7,256.1V258.3M189.9,254.7V261.9M191.2,257.7V259.8M192.4,258.0V261.5M193.7,260.0V263.5M194.9,256.5V260.3M196.2,261.7V265.4M197.4,263.6V266.7M198.7,266.9V269.5M199.9,259.2V271.0M201.2,264.0V271.7M202.4,266.9V270.5M203.7,265.5V275.6M204.9,268.2V271.2M206.2,260.3V270.0M207.4,273.1V280.7M208.7,259.9V269.6M209.9,269.5V278.5M211.2,274.7V277.6M212.4,269.0V273.6M213.7,277.7V281.3M214.9,269.2V274.1M216.2,272.5V276.1M217.4,267.7V272.9M218.7,273.2V276.9M219.9,276.8V280.9M221.2,272.6V277.0M222.4,268.9V278.3M223.7,272.7V275.9M224.9,268.0V281.5M226.2,276.1V280.8M227.4,271.8V283.7M228.7,276.5V281.2M229.9,270.2V275.1" fill="none" stroke="#cc9c4c" stroke-width="1.5"/>
<polyline points="70.5,276.1 71.5,276.1 72.5,276.1 73.5,276.1 74.5,276.1 75.5,276.1 76.5,276.1 77.5,276.1 78.5,276.1 79.5,276.1 80.5,276.1 81.5,276.1 82.5,276.1 83.5,276.1 84.5,276.1 85.5,276.1 86.5,276.1 87.5,276.1 88.5,276.1 89.5,276.1 90.5,276.1 91.5,276.1 92.5,276.1 93.5,276.1 94.5,276.1 95.5,276.0 96.5,276.0 97.5,276.0 98.5,276.0 99.5,276.0 100.5,276.0 101.5,276.0 102.5,276.0 103.5,276.0 104.5,276.0 105.5,276.0 106.5,276.0 107.5,276.0 108.5,275.9 109.5,275.9 110.5,275.9 111.5,275.9 112.5,275.8 113.5,275.8 114.5,275.7 115.5,275.7 116.5,275.6 117.5,275.5 118.5,275.4 119.5,275.3 120.5,275.2 121.5,275.1 122.5,275.0 123.5,274.8 124.5,274.6 125.5,274.5 126.5,274.2 127.5,274.0 128.5,273.7 129.5,273.5 130.5,273.1 131.5,272.8 132.5,272.4 133.5,272.0 134.5,271.6 135.5,271.1 136.5,270.6 137.5,270.1 138.5,269.5 139.5,268.9 140.5,268.2 141.5,267.6 142.5,266.8 143.5,266.1 144.5,265.3 145.5,264.5 146.5,263.7 147.5,262.8 148.5,262.0 149.5,261.1 150.5,260.2 151.5,259.3 152.5,258.3 153.5,257.4 154.5,256.5 155.5,255.6 156.5,254.8 157.5,253.9 158.5,253.1 159.5,252.3 160.5,251.6 161.5,250.9 162.5,250.2 163.5,249.7 164.5,249.1 165.5,248.7 166.5,248.3 167.5,248.0 168.5,247.7 169.5,247.6 170.5,247.5 171.5,247.5 172.5,247.5 173.5,247.7 174.5,247.9 175.5,248.2 176.5,248.6 177.5,249.0 178.5,249.5 179.5,250.1 180.5,250.8 181.5,251.4 182.5,252.2 183.5,252.9 184.5,253.8 185.5,254.6 186.5,255.5 187.5,256.4 188.5,257.3 189.5,258.2 190.5,259.1 191.5,260.0 192.5,260.9 193.5,261.8 194.5,262.7 195.5,263.5 196.5,264.4 197.5,265.2 198.5,265.9 199.5,266.7 200.5,267.4 201.5,268.1 202.5,268.8 203.5,269.4 204.5,270.0 205.5,270.5 206.5,271.0 207.5,271.5 208.5,271.9 209.5,272.3 210.5,272.7 211.5,273.1 212.5,273.4 213.5,273.7 214.5,274.0 215.5,274.2 216.5,274.4 217.5,274.6 218.5,274.8 219.5,274.9 220.5,275.1 221.5,275.2 222.5,275.3 223.5,275.4 224.5,275.5 225.5,275.6 226.5,275.7 227.5,275.7 228.5,275.8 229.5,275.8 230.5,275.8" fill="none" stroke="#1e1410" stroke-width="1.35"/>
<path d="M71.2,289.2V295.5M72.5,289.7V294.5M73.7,288.3V293.2M75.0,288.4V292.9M76.2,288.5V295.4M77.5,284.8V313.0M78.7,281.0V285.8M80.0,282.0V290.0M81.2,286.3V292.1M82.5,280.5V297.2M83.7,286.1V297.0M85.0,281.9V288.6M86.2,281.2V287.4M87.5,286.7V292.7M88.7,284.2V289.5M90.0,289.4V293.6M91.2,289.4V299.1M92.5,282.9V291.1M93.7,288.4V292.1M95.0,286.1V296.5M96.2,287.2V293.2M97.5,285.7V289.4M98.7,276.0V281.8M100.0,283.7V289.7M101.2,289.8V295.6M102.5,287.9V292.7M103.7,289.4V293.8M105.0,289.9V293.8M106.2,279.4V284.3M107.5,291.5V296.5M108.7,285.7V289.1M110.0,285.5V291.9M111.2,291.0V294.4M112.5,278.5V282.9M113.7,284.7V295.8M115.0,282.3V292.6M116.2,290.2V296.0M117.5,283.7V286.6M118.7,283.6V287.3M120.0,288.9V299.0M121.2,286.2V290.8M122.5,283.3V286.4M123.7,287.4V290.9M125.0,291.7V294.4M126.2,280.6V285.2M127.5,279.7V284.2M128.7,282.4V285.8M129.9,277.5V286.3M131.2,272.5V286.9M132.4,283.6V290.1M133.7,283.2V285.7M134.9,275.7V280.2M136.2,282.5V286.0M137.4,281.5V284.1M138.7,283.2V286.2M139.9,284.8V290.0M141.2,280.2V283.0M142.4,277.5V282.4M143.7,274.7V278.4M144.9,270.7V276.9M146.2,271.4V277.4M147.4,273.8V276.6M148.7,276.4V279.6M149.9,270.7V275.0M151.2,263.8V277.1M152.4,267.7V269.9M153.7,269.6V274.6M154.9,271.2V276.1M156.2,263.9V281.7M157.4,263.9V267.4M158.7,264.0V269.0M159.9,262.6V267.6M161.2,255.7V266.2M162.4,259.1V262.2M163.7,255.8V259.7M164.9,261.1V267.5M166.2,261.5V265.9M167.4,263.6V270.5M168.7,272.4V280.2M169.9,262.4V266.3M171.2,264.4V267.9M172.4,265.5V269.4M173.7,255.5V262.9M174.9,266.1V268.7M176.2,263.7V266.7M177.4,267.6V271.4M178.7,269.2V280.9M179.9,266.8V269.9M181.2,271.1V273.8M182.4,266.8V270.2M183.7,267.9V272.1M184.9,262.4V272.3M186.2,275.5V284.1M187.4,270.6V273.6M188.7,273.7V277.7M189.9,271.6V275.8M191.2,275.5V278.6M192.4,272.4V275.9M193.7,267.3V274.3M194.9,275.4V278.9M196.2,270.2V286.4M197.4,278.0V284.4M198.7,281.0V283.8M199.9,281.3V285.9M201.2,281.1V285.8M202.4,288.8V291.9M203.7,282.6V287.1M204.9,282.2V291.1M206.2,277.6V297.1M207.4,276.8V285.8M208.7,273.6V278.0M209.9,279.7V282.7M211.2,282.4V285.9M212.4,280.5V284.0M213.7,281.8V284.8M214.9,283.5V286.7M216.2,280.3V289.3M217.4,284.7V288.6M218.7,285.6V293.6M219.9,279.5V286.8M221.2,292.8V296.6M222.4,279.9V284.1M223.7,286.1V291.1M224.9,280.7V293.2M226.2,290.4V293.6M227.4,283.2V295.8M228.7,285.3V290.9M229.9,288.7V296.5" fill="none" stroke="#c4a44c" stroke-width="1.5"/>
<polyline points="70.5,289.0 71.5,289.0 72.5,289.0 73.5,289.0 74.5,289.0 75.5,289.0 76.5,289.0 77.5,289.0 78.5,289.0 79.5,289.0 80.5,289.0 81.5,289.0 82.5,289.0 83.5,289.0 84.5,289.0 85.5,289.0 86.5,289.0 87.5,289.0 88.5,289.0 89.5,289.0 90.5,289.0 91.5,289.0 92.5,289.0 93.5,289.0 94.5,289.0 95.5,289.0 96.5,288.9 97.5,288.9 98.5,288.9 99.5,288.9 100.5,288.9 101.5,288.9 102.5,288.9 103.5,288.9 104.5,288.9 105.5,288.9 106.5,288.8 107.5,288.8 108.5,288.8 109.5,288.7 110.5,288.7 111.5,288.7 112.5,288.6 113.5,288.6 114.5,288.5 115.5,288.4 116.5,288.3 117.5,288.2 118.5,288.1 119.5,288.0 120.5,287.9 121.5,287.7 122.5,287.5 123.5,287.3 124.5,287.1 125.5,286.9 126.5,286.7 127.5,286.4 128.5,286.1 129.5,285.7 130.5,285.4 131.5,285.0 132.5,284.6 133.5,284.1 134.5,283.6 135.5,283.1 136.5,282.6 137.5,282.0 138.5,281.4 139.5,280.8 140.5,280.1 141.5,279.4 142.5,278.7 143.5,278.0 144.5,277.2 145.5,276.5 146.5,275.7 147.5,274.9 148.5,274.1 149.5,273.3 150.5,272.5 151.5,271.7 152.5,270.9 153.5,270.1 154.5,269.4 155.5,268.7 156.5,268.0 157.5,267.3 158.5,266.7 159.5,266.2 160.5,265.7 161.5,265.2 162.5,264.8 163.5,264.5 164.5,264.2 165.5,264.0 166.5,263.8 167.5,263.8 168.5,263.8 169.5,263.8 170.5,264.0 171.5,264.2 172.5,264.5 173.5,264.8 174.5,265.2 175.5,265.7 176.5,266.2 177.5,266.7 178.5,267.3 179.5,268.0 180.5,268.7 181.5,269.4 182.5,270.1 183.5,270.9 184.5,271.7 185.5,272.5 186.5,273.3 187.5,274.1 188.5,274.9 189.5,275.7 190.5,276.5 191.5,277.2 192.5,278.0 193.5,278.7 194.5,279.4 195.5,280.1 196.5,280.8 197.5,281.4 198.5,282.0 199.5,282.6 200.5,283.1 201.5,283.6 202.5,284.1 203.5,284.6 204.5,285.0 205.5,285.4 206.5,285.7 207.5,286.1 208.5,286.4 209.5,286.7 210.5,286.9 211.5,287.1 212.5,287.3 213.5,287.5 214.5,287.7 215.5,287.9 216.5,288.0 217.5,288.1 218.5,288.2 219.5,288.3 220.5,288.4 221.5,288.5 222.5,288.6 223.5,288.6 224.5,288.7 225.5,288.7 226.5,288.7 227.5,288.8 228.5,288.8 229.5,288.8 230.5,288.9" fill="none" stroke="#1e1410" stroke-width="1.35"/>
<path d="M71.2,293.0V303.1M72.5,304.8V309.5M73.7,298.2V301.4M75.0,297.7V306.0M76.2,305.0V308.1M77.5,305.3V309.0M78.7,300.2V305.2M80.0,304.2V309.3M81.2,303.4V306.9M82.5,294.7V300.1M83.7,297.4V303.6M85.0,300.4V306.8M86.2,297.5V303.6M87.5,291.9V296.5M88.7,300.5V309.6M90.0,296.5V299.7M91.2,297.0V302.0M92.5,291.1V302.1M93.7,302.9V308.4M95.0,292.5V304.1M96.2,291.5V303.5M97.5,295.8V302.1M98.7,294.6V297.8M100.0,303.6V309.0M101.2,293.2V303.3M102.5,300.5V305.1M103.7,301.4V304.8M105.0,298.6V302.3M106.2,296.0V299.3M107.5,296.6V299.5M108.7,301.2V310.4M110.0,302.4V306.1M111.2,301.6V315.7M112.5,300.6V305.1M113.7,295.9V304.6M115.0,297.8V302.6M116.2,293.9V306.1M117.5,299.8V303.2M118.7,295.2V298.7M120.0,293.1V299.8M121.2,296.0V300.0M122.5,295.9V299.4M123.7,293.5V297.2M125.0,296.0V301.0M126.2,295.3V304.1M127.5,291.1V295.0M128.7,281.9V299.1M129.9,285.8V297.8M131.2,293.2V295.6M132.4,298.0V302.8M133.7,288.0V294.6M134.9,287.7V291.5M136.2,289.1V292.5M137.4,290.1V293.3M138.7,278.9V291.6M139.9,284.5V287.7M141.2,284.0V286.9M142.4,284.2V287.1M143.7,284.7V288.6M144.9,282.2V289.6M146.2,281.6V286.9M147.4,286.2V290.3M148.7,279.9V283.8M149.9,277.5V280.3M151.2,282.0V285.8M152.4,269.8V282.7M153.7,277.1V280.3M154.9,278.4V289.7M156.2,277.2V282.5M157.4,260.3V278.2M158.7,268.1V278.7M159.9,274.2V278.6M161.2,276.3V288.1M162.4,280.3V288.8M163.7,267.8V270.7M164.9,276.0V288.7M166.2,276.2V283.2M167.4,276.4V279.1M168.7,278.1V282.7M169.9,282.5V286.4M171.2,274.7V278.4M172.4,278.9V283.0M173.7,285.7V288.2M174.9,279.2V288.3M176.2,289.7V293.8M177.4,278.2V290.5M178.7,286.6V289.2M179.9,289.9V292.4M181.2,290.7V293.2M182.4,284.4V288.3M183.7,291.8V294.6M184.9,292.5V294.7M186.2,277.4V292.1M187.4,291.2V297.8M188.7,287.7V290.9M189.9,292.0V294.6M191.2,296.2V299.7M192.4,292.0V305.2M193.7,292.5V296.3M194.9,290.1V299.7M196.2,297.9V304.0M197.4,299.9V304.5M198.7,294.7V300.4M199.9,282.6V301.6M201.2,297.7V304.0M202.4,300.3V304.1M203.7,296.2V300.2M204.9,301.0V304.2M206.2,294.1V312.1M207.4,295.4V302.2M208.7,290.4V302.9M209.9,297.2V300.3M211.2,294.1V309.0M212.4,296.8V300.4M213.7,299.8V308.6M214.9,306.2V309.9M216.2,296.9V308.3M217.4,295.3V303.7M218.7,293.9V305.6M219.9,297.9V313.8M221.2,300.9V304.1M222.4,298.1V302.6M223.7,300.7V306.6M224.9,302.3V307.6M226.2,294.6V298.7M227.4,293.2V303.7M228.7,298.5V310.6M229.9,304.1V309.5" fill="none" stroke="#b8ac50" stroke-width="1.5"/>
<polyline points="70.5,301.9 71.5,301.9 72.5,301.9 73.5,301.9 74.5,301.9 75.5,301.9 76.5,301.9 77.5,301.9 78.5,301.9 79.5,301.9 80.5,301.9 81.5,301.9 82.5,301.9 83.5,301.9 84.5,301.9 85.5,301.9 86.5,301.9 87.5,301.9 88.5,301.9 89.5,301.9 90.5,301.9 91.5,301.8 92.5,301.8 93.5,301.8 94.5,301.8 95.5,301.8 96.5,301.8 97.5,301.8 98.5,301.8 99.5,301.7 100.5,301.7 101.5,301.7 102.5,301.7 103.5,301.6 104.5,301.6 105.5,301.5 106.5,301.5 107.5,301.4 108.5,301.3 109.5,301.2 110.5,301.1 111.5,301.0 112.5,300.9 113.5,300.7 114.5,300.6 115.5,300.4 116.5,300.2 117.5,300.0 118.5,299.8 119.5,299.5 120.5,299.2 121.5,298.9 122.5,298.6 123.5,298.2 124.5,297.9 125.5,297.4 126.5,297.0 127.5,296.5 128.5,296.0 129.5,295.5 130.5,294.9 131.5,294.3 132.5,293.7 133.5,293.1 134.5,292.4 135.5,291.7 136.5,291.0 137.5,290.2 138.5,289.5 139.5,288.7 140.5,288.0 141.5,287.2 142.5,286.4 143.5,285.7 144.5,284.9 145.5,284.2 146.5,283.4 147.5,282.7 148.5,282.1 149.5,281.4 150.5,280.8 151.5,280.2 152.5,279.7 153.5,279.3 154.5,278.9 155.5,278.5 156.5,278.2 157.5,278.0 158.5,277.8 159.5,277.7 160.5,277.7 161.5,277.7 162.5,277.8 163.5,278.0 164.5,278.2 165.5,278.5 166.5,278.9 167.5,279.3 168.5,279.7 169.5,280.2 170.5,280.8 171.5,281.4 172.5,282.1 173.5,282.7 174.5,283.4 175.5,284.2 176.5,284.9 177.5,285.7 178.5,286.4 179.5,287.2 180.5,288.0 181.5,288.7 182.5,289.5 183.5,290.2 184.5,291.0 185.5,291.7 186.5,292.4 187.5,293.1 188.5,293.7 189.5,294.3 190.5,294.9 191.5,295.5 192.5,296.0 193.5,296.5 194.5,297.0 195.5,297.4 196.5,297.9 197.5,298.2 198.5,298.6 199.5,298.9 200.5,299.2 201.5,299.5 202.5,299.8 203.5,300.0 204.5,300.2 205.5,300.4 206.5,300.6 207.5,300.7 208.5,300.9 209.5,301.0 210.5,301.1 211.5,301.2 212.5,301.3 213.5,301.4 214.5,301.5 215.5,301.5 216.5,301.6 217.5,301.6 218.5,301.7 219.5,301.7 220.5,301.7 221.5,301.7 222.5,301.8 223.5,301.8 224.5,301.8 225.5,301.8 226.5,301.8 227.5,301.8 228.5,301.8 229.5,301.8 230.5,301.9" fill="none" stroke="#1e1410" stroke-width="1.35"/>
<path d="M71.2,311.2V320.5M72.5,312.8V316.4M73.7,313.5V318.7M75.0,308.8V318.1M76.2,313.0V317.8M77.5,309.0V318.7M78.7,315.4V319.7M80.0,307.9V317.4M81.2,320.0V323.6M82.5,311.9V316.2M83.7,313.5V319.4M85.0,310.4V320.1M86.2,310.1V318.4M87.5,299.8V314.1M88.7,312.2V316.2M90.0,314.8V317.8M91.2,306.0V317.3M92.5,313.3V316.6M93.7,310.1V318.6M95.0,310.1V324.2M96.2,317.9V320.9M97.5,313.4V319.2M98.7,309.6V312.8M100.0,304.9V309.7M101.2,300.3V324.7M102.5,308.0V318.3M103.7,306.6V317.0M105.0,306.2V312.6M106.2,313.0V316.6M107.5,312.4V316.2M108.7,311.2V314.7M110.0,306.8V313.7M111.2,309.6V314.0M112.5,301.7V319.8M113.7,306.4V315.7M115.0,311.2V320.3M116.2,312.2V315.5M117.5,304.9V316.2M118.7,314.3V317.7M120.0,314.4V319.5M121.2,309.4V313.9M122.5,301.8V318.9M123.7,310.5V315.2M125.0,311.0V313.5M126.2,310.1V313.1M127.5,299.7V316.2M128.7,310.6V317.3M129.9,301.7V310.5M131.2,305.4V308.8M132.4,300.0V306.7M133.7,301.3V304.9M134.9,301.3V308.7M136.2,299.6V302.0M137.4,304.5V310.3M138.7,295.2V309.8M139.9,299.6V303.5M141.2,293.2V300.0M142.4,297.0V299.8M143.7,287.9V292.3M144.9,290.3V294.8M146.2,294.1V303.8M147.4,289.8V301.3M148.7,299.3V304.2M149.9,288.2V294.2M151.2,296.5V300.5M152.4,289.5V297.2M153.7,287.1V292.3M154.9,288.9V293.5M156.2,284.5V296.0M157.4,286.4V289.8M158.7,287.5V302.2M159.9,287.6V297.0M161.2,297.9V301.0M162.4,288.6V293.4M163.7,286.8V291.0M164.9,295.4V299.9M166.2,285.0V290.5M167.4,289.5V302.1M168.7,294.0V300.7M169.9,295.1V297.5M171.2,300.6V303.3M172.4,297.3V301.2M173.7,301.3V304.0M174.9,299.2V304.6M176.2,303.7V309.8M177.4,296.2V307.2M178.7,305.3V315.8M179.9,297.2V304.5M181.2,299.1V301.7M182.4,301.9V309.3M183.7,308.3V315.8M184.9,296.8V311.5M186.2,307.0V311.2M187.4,311.1V313.9M188.7,304.7V308.2M189.9,311.8V314.4M191.2,313.2V317.7M192.4,308.2V312.3M193.7,311.4V316.3M194.9,299.8V308.1M196.2,308.9V322.4M197.4,309.6V313.6M198.7,313.7V322.4M199.9,309.0V311.9M201.2,315.5V320.6M202.4,311.7V316.3M203.7,307.4V322.0M204.9,310.4V314.5M206.2,317.4V322.5M207.4,313.5V325.0M208.7,305.2V315.6M209.9,316.9V320.7M211.2,314.5V319.5M212.4,310.3V321.0M213.7,313.9V319.8M214.9,307.8V320.6M216.2,313.7V316.7M217.4,308.0V312.2M218.7,307.0V318.9M219.9,317.5V324.8M221.2,315.1V320.2M222.4,310.9V319.1M223.7,314.3V319.8M224.9,313.0V316.3M226.2,315.6V318.6M227.4,307.2V312.6M228.7,311.5V317.0M229.9,316.6V320.1" fill="none" stroke="#b0b054" stroke-width="1.5"/>
<polyline points="70.5,314.8 71.5,314.8 72.5,314.8 73.5,314.8 74.5,314.8 75.5,314.8 76.5,314.8 77.5,314.8 78.5,314.8 79.5,314.8 80.5,314.8 81.5,314.8 82.5,314.8 83.5,314.8 84.5,314.8 85.5,314.8 86.5,314.8 87.5,314.8 88.5,314.8 89.5,314.8 90.5,314.7 91.5,314.7 92.5,314.7 93.5,314.7 94.5,314.7 95.5,314.7 96.5,314.7 97.5,314.6 98.5,314.6 99.5,314.6 100.5,314.5 101.5,314.5 102.5,314.4 103.5,314.4 104.5,314.3 105.5,314.3 106.5,314.2 107.5,314.1 108.5,314.0 109.5,313.9 110.5,313.7 111.5,313.6 112.5,313.4 113.5,313.3 114.5,313.1 115.5,312.8 116.5,312.6 117.5,312.4 118.5,312.1 119.5,311.8 120.5,311.5 121.5,311.1 122.5,310.7 123.5,310.3 124.5,309.9 125.5,309.5 126.5,309.0 127.5,308.5 128.5,307.9 129.5,307.4 130.5,306.8 131.5,306.2 132.5,305.6 133.5,305.0 134.5,304.3 135.5,303.7 136.5,303.0 137.5,302.3 138.5,301.7 139.5,301.0 140.5,300.3 141.5,299.7 142.5,299.0 143.5,298.4 144.5,297.8 145.5,297.2 146.5,296.7 147.5,296.2 148.5,295.7 149.5,295.3 150.5,294.9 151.5,294.6 152.5,294.3 153.5,294.0 154.5,293.9 155.5,293.8 156.5,293.7 157.5,293.7 158.5,293.8 159.5,293.9 160.5,294.0 161.5,294.3 162.5,294.6 163.5,294.9 164.5,295.3 165.5,295.7 166.5,296.2 167.5,296.7 168.5,297.2 169.5,297.8 170.5,298.4 171.5,299.0 172.5,299.7 173.5,300.3 174.5,301.0 175.5,301.7 176.5,302.3 177.5,303.0 178.5,303.7 179.5,304.3 180.5,305.0 181.5,305.6 182.5,306.2 183.5,306.8 184.5,307.4 185.5,307.9 186.5,308.5 187.5,309.0 188.5,309.5 189.5,309.9 190.5,310.3 191.5,310.7 192.5,311.1 193.5,311.5 194.5,311.8 195.5,312.1 196.5,312.4 197.5,312.6 198.5,312.8 199.5,313.1 200.5,313.3 201.5,313.4 202.5,313.6 203.5,313.7 204.5,313.9 205.5,314.0 206.5,314.1 207.5,314.2 208.5,314.3 209.5,314.3 210.5,314.4 211.5,314.4 212.5,314.5 213.5,314.5 214.5,314.6 215.5,314.6 216.5,314.6 217.5,314.7 218.5,314.7 219.5,314.7 220.5,314.7 221.5,314.7 222.5,314.7 223.5,314.7 224.5,314.8 225.5,314.8 226.5,314.8 227.5,314.8 228.5,314.8 229.5,314.8 230.5,314.8" fill="none" stroke="#1e1410" stroke-width="1.35"/>
<path d="M71.2,320.4V323.9M72.5,319.8V324.5M73.7,333.4V338.1M75.0,327.7V332.7M76.2,328.4V332.8M77.5,321.1V331.0M78.7,326.7V331.4M80.0,324.8V329.9M81.2,328.4V339.7M82.5,317.1V322.0M83.7,325.7V331.2M85.0,328.7V341.6M86.2,326.3V335.7M87.5,324.8V328.8M88.7,331.8V336.3M90.0,326.0V329.4M91.2,318.6V324.3M92.5,321.0V324.3M93.7,326.9V330.6M95.0,325.5V332.6M96.2,324.9V329.0M97.5,322.2V329.7M98.7,323.2V326.9M100.0,335.0V339.7M101.2,326.0V329.2M102.5,319.2V336.7M103.7,324.3V330.4M105.0,329.9V334.2M106.2,325.0V328.6M107.5,330.6V334.2M108.7,321.2V326.0M110.0,319.6V323.3M111.2,317.4V325.4M112.5,319.4V332.8M113.7,317.1V321.8M115.0,323.5V327.9M116.2,318.1V328.1M117.5,323.6V329.3M118.7,326.3V330.3M120.0,314.9V317.8M121.2,310.5V331.8M122.5,322.7V326.8M123.7,323.2V326.1M125.0,320.1V325.9M126.2,311.7V323.1M127.5,317.5V321.6M128.7,317.7V326.3M129.9,307.7V316.7M131.2,312.2V317.5M132.4,316.2V322.4M133.7,306.0V310.1M134.9,317.3V320.1M136.2,315.9V319.1M137.4,314.6V317.6M138.7,307.5V311.2M139.9,309.7V313.2M141.2,313.6V319.4M142.4,310.9V323.6M143.7,304.0V308.4M144.9,305.3V309.3M146.2,308.8V311.6M147.4,309.3V312.2M148.7,307.2V315.9M149.9,305.1V308.8M151.2,306.2V312.6M152.4,295.4V310.3M153.7,305.5V311.6M154.9,309.2V316.8M156.2,300.0V313.0M157.4,305.8V309.5M158.7,305.9V310.0M159.9,300.3V305.4M161.2,308.2V311.2M162.4,303.4V313.3M163.7,308.3V312.0M164.9,307.6V311.1M166.2,305.3V315.9M167.4,307.4V311.7M168.7,308.2V312.5M169.9,308.7V313.4M171.2,309.9V313.4M172.4,314.8V318.4M173.7,309.6V312.6M174.9,317.7V322.0M176.2,315.3V318.6M177.4,319.4V322.1M178.7,318.1V321.0M179.9,319.1V322.9M181.2,319.5V321.9M182.4,309.4V322.3M183.7,321.1V325.1M184.9,312.7V317.8M186.2,320.3V323.6M187.4,319.2V322.1M188.7,320.7V326.7M189.9,322.7V334.6M191.2,321.0V325.2M192.4,323.2V327.6M193.7,323.4V326.9M194.9,320.4V325.7M196.2,318.8V322.1M197.4,317.8V327.4M198.7,326.7V332.0M199.9,322.7V326.1M201.2,323.8V334.4M202.4,319.3V334.8M203.7,327.9V333.7M204.9,328.8V332.0M206.2,324.5V328.2M207.4,320.4V327.2M208.7,317.2V331.8M209.9,326.2V330.9M211.2,314.9V326.5M212.4,327.1V334.7M213.7,324.5V329.3M214.9,324.0V328.5M216.2,325.3V332.3M217.4,325.1V328.5M218.7,334.3V337.4M219.9,323.0V326.6M221.2,320.1V324.5M222.4,326.3V331.8M223.7,327.8V331.4M224.9,312.6V322.4M226.2,326.5V332.3M227.4,322.6V329.3M228.7,318.9V322.3M229.9,326.2V340.0" fill="none" stroke="#98b058" stroke-width="1.5"/>
<polyline points="70.5,327.7 71.5,327.7 72.5,327.7 73.5,327.7 74.5,327.7 75.5,327.7 76.5,327.7 77.5,327.7 78.5,327.7 79.5,327.7 80.5,327.7 81.5,327.7 82.5,327.7 83.5,327.7 84.5,327.7 85.5,327.7 86.5,327.7 87.5,327.7 88.5,327.7 89.5,327.7 90.5,327.6 91.5,327.6 92.5,327.6 93.5,327.6 94.5,327.6 95.5,327.6 96.5,327.5 97.5,327.5 98.5,327.5 99.5,327.4 100.5,327.4 101.5,327.3 102.5,327.3 103.5,327.2 104.5,327.2 105.5,327.1 106.5,327.0 107.5,326.9 108.5,326.8 109.5,326.6 110.5,326.5 111.5,326.3 112.5,326.1 113.5,325.9 114.5,325.7 115.5,325.5 116.5,325.2 117.5,325.0 118.5,324.7 119.5,324.3 120.5,324.0 121.5,323.6 122.5,323.2 123.5,322.8 124.5,322.4 125.5,321.9 126.5,321.4 127.5,320.9 128.5,320.3 129.5,319.8 130.5,319.2 131.5,318.6 132.5,318.0 133.5,317.3 134.5,316.7 135.5,316.0 136.5,315.4 137.5,314.7 138.5,314.1 139.5,313.5 140.5,312.8 141.5,312.2 142.5,311.6 143.5,311.0 144.5,310.5 145.5,310.0 146.5,309.5 147.5,309.1 148.5,308.7 149.5,308.3 150.5,308.0 151.5,307.8 152.5,307.6 153.5,307.4 154.5,307.3 155.5,307.3 156.5,307.3 157.5,307.4 158.5,307.5 159.5,307.7 160.5,308.0 161.5,308.3 162.5,308.6 163.5,309.0 164.5,309.4 165.5,309.9 166.5,310.4 167.5,310.9 168.5,311.5 169.5,312.1 170.5,312.7 171.5,313.3 172.5,314.0 173.5,314.6 174.5,315.3 175.5,315.9 176.5,316.6 177.5,317.2 178.5,317.8 179.5,318.5 180.5,319.1 181.5,319.6 182.5,320.2 183.5,320.8 184.5,321.3 185.5,321.8 186.5,322.3 187.5,322.7 188.5,323.1 189.5,323.5 190.5,323.9 191.5,324.3 192.5,324.6 193.5,324.9 194.5,325.2 195.5,325.5 196.5,325.7 197.5,325.9 198.5,326.1 199.5,326.3 200.5,326.4 201.5,326.6 202.5,326.7 203.5,326.8 204.5,327.0 205.5,327.1 206.5,327.1 207.5,327.2 208.5,327.3 209.5,327.3 210.5,327.4 211.5,327.4 212.5,327.5 213.5,327.5 214.5,327.5 215.5,327.6 216.5,327.6 217.5,327.6 218.5,327.6 219.5,327.6 220.5,327.6 221.5,327.7 222.5,327.7 223.5,327.7 224.5,327.7 225.5,327.7 226.5,327.7 227.5,327.7 228.5,327.7 229.5,327.7 230.5,327.7" fill="none" stroke="#1e1410" stroke-width="1.35"/>
<path d="M71.2,344.3V358.1M72.5,341.1V344.9M73.7,338.4V350.9M75.0,330.7V338.8M76.2,333.4V337.0M77.5,340.9V348.2M78.7,330.0V344.1M80.0,339.8V344.0M81.2,336.1V340.7M82.5,340.5V344.4M83.7,328.2V339.4M85.0,333.3V340.2M86.2,330.9V335.1M87.5,332.8V341.8M88.7,336.4V340.1M90.0,336.9V341.4M91.2,339.6V343.9M92.5,337.8V351.3M93.7,335.6V340.0M95.0,337.7V340.7M96.2,340.3V345.8M97.5,342.3V345.8M98.7,342.0V347.7M100.0,334.5V339.4M101.2,337.2V341.3M102.5,340.9V347.6M103.7,331.0V349.4M105.0,333.5V343.5M106.2,326.9V335.9M107.5,335.2V339.8M108.7,333.1V342.2M110.0,334.3V343.7M111.2,339.3V344.8M112.5,336.6V341.6M113.7,342.3V346.0M115.0,338.1V341.4M116.2,335.8V340.0M117.5,331.6V348.4M118.7,333.2V341.2M120.0,330.9V338.3M121.2,334.4V338.0M122.5,336.7V340.9M123.7,332.9V341.7M125.0,329.8V337.2M126.2,329.4V340.3M127.5,333.9V337.8M128.7,326.9V329.4M129.9,327.2V329.7M131.2,330.6V334.6M132.4,323.9V328.3M133.7,320.0V324.0M134.9,328.1V330.3M136.2,320.3V322.6M137.4,317.8V325.2M138.7,323.0V328.6M139.9,318.9V326.7M141.2,311.2V314.2M142.4,316.0V324.7M143.7,318.3V321.4M144.9,310.3V320.1M146.2,312.1V317.0M147.4,312.4V316.1M148.7,314.2V317.1M149.9,320.6V323.2M151.2,308.6V314.4M152.4,307.3V313.1M153.7,307.1V311.9M154.9,312.8V316.2M156.2,309.3V313.6M157.4,314.1V317.7M158.7,305.4V311.6M159.9,303.5V317.7M161.2,311.7V314.2M162.4,310.0V313.5M163.7,314.6V326.0M164.9,310.4V318.0M166.2,320.7V324.4M167.4,316.7V319.2M168.7,325.8V334.7M169.9,318.6V327.8M171.2,321.5V323.9M172.4,314.4V320.9M173.7,327.1V330.3M174.9,323.6V326.7M176.2,325.5V328.0M177.4,317.6V326.4M178.7,317.0V329.9M179.9,327.8V333.9M181.2,326.5V330.8M182.4,330.4V333.0M183.7,330.0V334.7M184.9,318.9V335.4M186.2,330.2V336.0M187.4,330.0V334.1M188.7,327.3V339.2M189.9,333.7V336.4M191.2,326.9V331.0M192.4,332.3V344.9M193.7,336.7V341.8M194.9,333.0V341.4M196.2,339.5V348.6M197.4,329.2V332.9M198.7,339.1V349.8M199.9,338.5V347.0M201.2,335.6V340.7M202.4,332.3V346.0M203.7,335.1V338.5M204.9,334.2V347.8M206.2,338.0V341.9M207.4,332.3V339.7M208.7,343.2V350.0M209.9,335.7V341.5M211.2,330.1V342.4M212.4,337.0V343.6M213.7,338.4V342.9M214.9,339.4V343.9M216.2,337.0V340.3M217.4,332.9V345.9M218.7,337.8V347.3M219.9,329.6V342.6M221.2,336.6V350.3M222.4,343.3V347.5M223.7,334.6V339.9M224.9,335.3V346.2M226.2,337.4V344.3M227.4,336.6V341.2M228.7,342.1V347.4M229.9,335.2V338.8" fill="none" stroke="#68aa64" stroke-width="1.5"/>
<polyline points="70.5,340.6 71.5,340.6 72.5,340.6 73.5,340.6 74.5,340.6 75.5,340.6 76.5,340.6 77.5,340.6 78.5,340.6 79.5,340.6 80.5,340.6 81.5,340.6 82.5,340.6 83.5,340.6 84.5,340.6 85.5,340.6 86.5,340.6 87.5,340.6 88.5,340.5 89.5,340.5 90.5,340.5 91.5,340.5 92.5,340.5 93.5,340.5 94.5,340.4 95.5,340.4 96.5,340.4 97.5,340.3 98.5,340.3 99.5,340.2 100.5,340.2 101.5,340.1 102.5,340.0 103.5,339.9 104.5,339.8 105.5,339.7 106.5,339.6 107.5,339.4 108.5,339.2 109.5,339.0 110.5,338.8 111.5,338.6 112.5,338.4 113.5,338.1 114.5,337.8 115.5,337.4 116.5,337.1 117.5,336.7 118.5,336.3 119.5,335.8 120.5,335.3 121.5,334.8 122.5,334.2 123.5,333.7 124.5,333.0 125.5,332.4 126.5,331.7 127.5,331.0 128.5,330.2 129.5,329.4 130.5,328.6 131.5,327.8 132.5,327.0 133.5,326.1 134.5,325.2 135.5,324.4 136.5,323.5 137.5,322.6 138.5,321.7 139.5,320.9 140.5,320.1 141.5,319.2 142.5,318.5 143.5,317.7 144.5,317.0 145.5,316.3 146.5,315.7 147.5,315.2 148.5,314.7 149.5,314.2 150.5,313.9 151.5,313.6 152.5,313.3 153.5,313.2 154.5,313.1 155.5,313.1 156.5,313.2 157.5,313.3 158.5,313.6 159.5,313.9 160.5,314.2 161.5,314.7 162.5,315.2 163.5,315.7 164.5,316.3 165.5,317.0 166.5,317.7 167.5,318.5 168.5,319.2 169.5,320.1 170.5,320.9 171.5,321.7 172.5,322.6 173.5,323.5 174.5,324.4 175.5,325.2 176.5,326.1 177.5,327.0 178.5,327.8 179.5,328.6 180.5,329.4 181.5,330.2 182.5,331.0 183.5,331.7 184.5,332.4 185.5,333.0 186.5,333.7 187.5,334.2 188.5,334.8 189.5,335.3 190.5,335.8 191.5,336.3 192.5,336.7 193.5,337.1 194.5,337.4 195.5,337.8 196.5,338.1 197.5,338.4 198.5,338.6 199.5,338.8 200.5,339.0 201.5,339.2 202.5,339.4 203.5,339.6 204.5,339.7 205.5,339.8 206.5,339.9 207.5,340.0 208.5,340.1 209.5,340.2 210.5,340.2 211.5,340.3 212.5,340.3 213.5,340.4 214.5,340.4 215.5,340.4 216.5,340.5 217.5,340.5 218.5,340.5 219.5,340.5 220.5,340.5 221.5,340.5 222.5,340.6 223.5,340.6 224.5,340.6 225.5,340.6 226.5,340.6 227.5,340.6 228.5,340.6 229.5,340.6 230.5,340.6" fill="none" stroke="#1e1410" stroke-width="1.35"/>
<path d="M71.2,344.0V352.1M72.5,351.2V356.4M73.7,350.1V354.7M75.0,353.3V359.1M76.2,341.9V350.5M77.5,352.0V357.9M78.7,356.0V359.5M80.0,349.5V353.6M81.2,353.5V360.2M82.5,358.1V363.9M83.7,343.1V354.1M85.0,351.9V358.5M86.2,342.4V353.3M87.5,351.7V359.4M88.7,349.3V353.9M90.0,348.3V355.2M91.2,353.2V357.6M92.5,344.1V352.9M93.7,353.5V358.1M95.0,349.5V353.3M96.2,348.6V354.4M97.5,351.3V356.1M98.7,344.8V351.6M100.0,349.1V352.1M101.2,350.8V356.0M102.5,349.7V353.7M103.7,345.5V355.0M105.0,345.7V354.5M106.2,348.1V359.9M107.5,351.9V356.6M108.7,347.6V350.6M110.0,350.9V355.3M111.2,349.3V357.0M112.5,346.0V352.0M113.7,339.2V352.0M115.0,352.7V356.8M116.2,349.8V353.1M117.5,348.7V354.5M118.7,345.2V351.2M120.0,346.5V350.3M121.2,346.3V349.0M122.5,343.0V346.7M123.7,344.3V350.7M125.0,344.1V351.4M126.2,333.9V344.0M127.5,338.2V350.8M128.7,336.4V340.7M129.9,340.4V347.6M131.2,341.2V344.4M132.4,338.2V341.7M133.7,334.1V339.9M134.9,335.7V341.5M136.2,334.4V342.9M137.4,333.9V339.9M138.7,331.7V335.9M139.9,330.8V336.8M141.2,329.6V332.2M142.4,329.7V333.3M143.7,331.7V336.0M144.9,328.0V331.3M146.2,329.8V334.3M147.4,318.8V327.1M148.7,312.0V325.0M149.9,325.6V332.6M151.2,317.8V327.5M152.4,333.0V335.8M153.7,308.7V319.1M154.9,328.0V331.1M156.2,320.3V324.2M157.4,327.7V331.4M158.7,316.2V321.6M159.9,327.4V333.2M161.2,328.5V332.1M162.4,328.9V336.5M163.7,329.8V333.4M164.9,327.9V331.6M166.2,329.3V332.1M167.4,326.6V333.9M168.7,329.2V337.8M169.9,325.8V340.8M171.2,332.4V340.3M172.4,337.3V341.3M173.7,337.7V345.4M174.9,336.9V339.5M176.2,333.8V342.9M177.4,336.0V339.9M178.7,338.7V351.5M179.9,340.8V346.5M181.2,338.9V350.1M182.4,331.8V350.4M183.7,342.0V352.2M184.9,342.8V345.4M186.2,343.1V347.0M187.4,352.9V356.9M188.7,351.7V355.8M189.9,345.3V354.0M191.2,348.5V351.2M192.4,352.2V354.8M193.7,346.5V353.9M194.9,350.4V358.6M196.2,353.1V357.1M197.4,353.0V358.4M198.7,344.0V359.8M199.9,351.9V357.2M201.2,344.3V355.2M202.4,348.5V355.7M203.7,350.0V353.0M204.9,357.3V361.7M206.2,352.4V359.2M207.4,356.5V359.7M208.7,353.1V362.5M209.9,349.5V354.9M211.2,350.9V355.7M212.4,345.2V354.8M213.7,346.7V363.3M214.9,358.1V362.0M216.2,355.8V359.0M217.4,359.6V363.6M218.7,349.6V354.3M219.9,355.5V364.6M221.2,351.8V362.2M222.4,343.5V351.4M223.7,358.6V364.3M224.9,345.7V349.9M226.2,344.1V355.7M227.4,352.1V356.2M228.7,348.5V351.7M229.9,355.8V359.5" fill="none" stroke="#30a080" stroke-width="1.5"/>
<polyline points="70.5,353.5 71.5,353.5 72.5,353.5 73.5,353.5 74.5,353.5 75.5,353.5 76.5,353.5 77.5,353.5 78.5,353.5 79.5,353.5 80.5,353.5 81.5,353.5 82.5,353.5 83.5,353.5 84.5,353.5 85.5,353.5 86.5,353.5 87.5,353.5 88.5,353.5 89.5,353.4 90.5,353.4 91.5,353.4 92.5,353.4 93.5,353.4 94.5,353.3 95.5,353.3 96.5,353.3 97.5,353.2 98.5,353.2 99.5,353.1 100.5,353.1 101.5,353.0 102.5,352.9 103.5,352.8 104.5,352.7 105.5,352.6 106.5,352.5 107.5,352.3 108.5,352.2 109.5,352.0 110.5,351.8 111.5,351.6 112.5,351.3 113.5,351.0 114.5,350.7 115.5,350.4 116.5,350.1 117.5,349.7 118.5,349.3 119.5,348.8 120.5,348.3 121.5,347.8 122.5,347.3 123.5,346.7 124.5,346.1 125.5,345.5 126.5,344.8 127.5,344.1 128.5,343.4 129.5,342.6 130.5,341.9 131.5,341.1 132.5,340.3 133.5,339.4 134.5,338.6 135.5,337.8 136.5,336.9 137.5,336.1 138.5,335.2 139.5,334.4 140.5,333.6 141.5,332.9 142.5,332.1 143.5,331.4 144.5,330.7 145.5,330.1 146.5,329.5 147.5,329.0 148.5,328.5 149.5,328.1 150.5,327.8 151.5,327.5 152.5,327.3 153.5,327.2 154.5,327.1 155.5,327.1 156.5,327.2 157.5,327.4 158.5,327.6 159.5,327.9 160.5,328.3 161.5,328.7 162.5,329.2 163.5,329.7 164.5,330.3 165.5,331.0 166.5,331.7 167.5,332.4 168.5,333.2 169.5,333.9 170.5,334.8 171.5,335.6 172.5,336.4 173.5,337.3 174.5,338.1 175.5,338.9 176.5,339.8 177.5,340.6 178.5,341.4 179.5,342.2 180.5,342.9 181.5,343.7 182.5,344.4 183.5,345.1 184.5,345.7 185.5,346.4 186.5,347.0 187.5,347.5 188.5,348.0 189.5,348.5 190.5,349.0 191.5,349.4 192.5,349.8 193.5,350.2 194.5,350.5 195.5,350.9 196.5,351.1 197.5,351.4 198.5,351.6 199.5,351.9 200.5,352.1 201.5,352.2 202.5,352.4 203.5,352.5 204.5,352.7 205.5,352.8 206.5,352.9 207.5,353.0 208.5,353.0 209.5,353.1 210.5,353.2 211.5,353.2 212.5,353.3 213.5,353.3 214.5,353.3 215.5,353.4 216.5,353.4 217.5,353.4 218.5,353.4 219.5,353.4 220.5,353.5 221.5,353.5 222.5,353.5 223.5,353.5 224.5,353.5 225.5,353.5 226.5,353.5 227.5,353.5 228.5,353.5 229.5,353.5 230.5,353.5" fill="none" stroke="#1e1410" stroke-width="1.35"/>
<path d="M71.2,365.9V371.4M72.5,359.5V366.9M73.7,363.2V370.2M75.0,366.1V369.3M76.2,365.4V371.4M77.5,364.4V369.1M78.7,367.9V370.9M80.0,354.7V361.5M81.2,358.2V376.1M82.5,356.4V363.6M83.7,361.9V371.8M85.0,365.6V370.2M86.2,365.2V368.5M87.5,369.1V372.3M88.7,359.8V370.4M90.0,359.2V380.8M91.2,364.5V367.7M92.5,354.1V372.4M93.7,364.1V367.4M95.0,362.2V371.8M96.2,366.4V369.6M97.5,364.0V367.3M98.7,364.9V376.5M100.0,360.0V377.9M101.2,362.6V366.6M102.5,364.0V369.6M103.7,365.2V368.4M105.0,354.7V358.8M106.2,364.9V372.3M107.5,367.9V373.2M108.7,358.0V373.1M110.0,365.0V368.1M111.2,356.7V359.5M112.5,357.4V363.7M113.7,355.1V366.6M115.0,364.8V367.7M116.2,358.9V362.7M117.5,360.9V365.3M118.7,358.1V364.2M120.0,361.9V367.6M121.2,354.8V361.6M122.5,354.4V358.6M123.7,360.5V364.2M125.0,352.6V355.9M126.2,346.1V355.9M127.5,356.8V359.9M128.7,350.9V360.6M129.9,353.3V355.8M131.2,347.3V356.2M132.4,349.3V351.3M133.7,349.2V352.0M134.9,344.0V348.0M136.2,342.8V346.7M137.4,351.9V359.5M138.7,346.4V350.0M139.9,348.0V350.2M141.2,341.6V346.4M142.4,343.1V346.8M143.7,337.6V342.5M144.9,327.0V336.8M146.2,341.7V345.2M147.4,341.3V345.5M148.7,334.6V339.7M149.9,332.7V339.9M151.2,334.8V337.6M152.4,330.8V334.9M153.7,339.1V344.7M154.9,338.3V343.9M156.2,329.8V332.8M157.4,332.6V335.5M158.7,335.2V350.8M159.9,336.7V341.2M161.2,333.4V342.9M162.4,333.7V347.3M163.7,331.8V344.5M164.9,341.8V344.8M166.2,341.5V345.6M167.4,333.9V344.6M168.7,342.4V349.9M169.9,341.0V344.6M171.2,341.9V346.3M172.4,341.2V346.6M173.7,347.3V353.3M174.9,343.7V352.5M176.2,347.1V349.8M177.4,344.3V349.5M178.7,352.9V362.9M179.9,351.3V356.5M181.2,347.0V352.8M182.4,352.8V355.6M183.7,354.5V359.9M184.9,350.4V358.0M186.2,359.5V366.7M187.4,353.6V356.5M188.7,358.8V363.0M189.9,363.3V372.7M191.2,350.7V355.6M192.4,363.0V366.4M193.7,355.1V364.9M194.9,360.5V365.9M196.2,353.5V361.1M197.4,360.0V367.5M198.7,359.0V376.6M199.9,365.4V369.3M201.2,361.2V367.5M202.4,361.7V369.2M203.7,360.4V366.4M204.9,362.3V369.9M206.2,360.4V363.4M207.4,359.6V368.9M208.7,359.9V372.1M209.9,359.5V362.9M211.2,367.0V373.7M212.4,365.2V369.4M213.7,364.1V369.3M214.9,359.7V364.2M216.2,362.9V372.9M217.4,362.2V367.6M218.7,364.3V371.3M219.9,364.9V368.4M221.2,367.0V376.6M222.4,359.5V363.7M223.7,357.3V369.1M224.9,360.5V367.4M226.2,368.1V371.2M227.4,358.5V361.5M228.7,361.5V364.9M229.9,367.4V371.1" fill="none" stroke="#20a0a0" stroke-width="1.5"/>
<polyline points="70.5,366.4 71.5,366.4 72.5,366.4 73.5,366.4 74.5,366.4 75.5,366.4 76.5,366.4 77.5,366.4 78.5,366.4 79.5,366.4 80.5,366.4 81.5,366.4 82.5,366.4 83.5,366.4 84.5,366.4 85.5,366.4 86.5,366.4 87.5,366.4 88.5,366.4 89.5,366.3 90.5,366.3 91.5,366.3 92.5,366.3 93.5,366.2 94.5,366.2 95.5,366.2 96.5,366.1 97.5,366.1 98.5,366.0 99.5,366.0 100.5,365.9 101.5,365.8 102.5,365.7 103.5,365.6 104.5,365.5 105.5,365.3 106.5,365.2 107.5,365.0 108.5,364.8 109.5,364.6 110.5,364.4 111.5,364.1 112.5,363.8 113.5,363.5 114.5,363.2 115.5,362.8 116.5,362.4 117.5,361.9 118.5,361.5 119.5,361.0 120.5,360.4 121.5,359.9 122.5,359.2 123.5,358.6 124.5,357.9 125.5,357.2 126.5,356.4 127.5,355.7 128.5,354.8 129.5,354.0 130.5,353.1 131.5,352.3 132.5,351.4 133.5,350.4 134.5,349.5 135.5,348.6 136.5,347.6 137.5,346.7 138.5,345.8 139.5,344.9 140.5,344.0 141.5,343.1 142.5,342.3 143.5,341.5 144.5,340.8 145.5,340.1 146.5,339.5 147.5,338.9 148.5,338.4 149.5,337.9 150.5,337.6 151.5,337.3 152.5,337.0 153.5,336.9 154.5,336.8 155.5,336.8 156.5,336.9 157.5,337.1 158.5,337.4 159.5,337.7 160.5,338.1 161.5,338.6 162.5,339.1 163.5,339.7 164.5,340.4 165.5,341.1 166.5,341.8 167.5,342.6 168.5,343.5 169.5,344.3 170.5,345.2 171.5,346.2 172.5,347.1 173.5,348.0 174.5,348.9 175.5,349.9 176.5,350.8 177.5,351.7 178.5,352.6 179.5,353.5 180.5,354.3 181.5,355.2 182.5,356.0 183.5,356.7 184.5,357.5 185.5,358.2 186.5,358.9 187.5,359.5 188.5,360.1 189.5,360.6 190.5,361.2 191.5,361.7 192.5,362.1 193.5,362.5 194.5,362.9 195.5,363.3 196.5,363.6 197.5,363.9 198.5,364.2 199.5,364.5 200.5,364.7 201.5,364.9 202.5,365.1 203.5,365.2 204.5,365.4 205.5,365.5 206.5,365.6 207.5,365.7 208.5,365.8 209.5,365.9 210.5,366.0 211.5,366.1 212.5,366.1 213.5,366.2 214.5,366.2 215.5,366.2 216.5,366.3 217.5,366.3 218.5,366.3 219.5,366.3 220.5,366.3 221.5,366.4 222.5,366.4 223.5,366.4 224.5,366.4 225.5,366.4 226.5,366.4 227.5,366.4 228.5,366.4 229.5,366.4 230.5,366.4" fill="none" stroke="#1e1410" stroke-width="1.35"/>
<path d="M71.2,354.9V385.3M72.5,373.8V380.2M73.7,379.1V382.7M75.0,373.7V381.9M76.2,373.4V377.5M77.5,380.9V386.3M78.7,372.2V386.8M80.0,375.9V382.8M81.2,372.8V376.4M82.5,385.9V390.5M83.7,382.8V386.5M85.0,377.1V383.4M86.2,376.4V383.9M87.5,375.9V383.3M88.7,371.2V376.7M90.0,376.1V381.3M91.2,369.8V381.8M92.5,376.5V380.5M93.7,377.2V386.7M95.0,373.3V379.2M96.2,382.5V385.6M97.5,378.6V386.4M98.7,375.1V378.3M100.0,376.3V384.8M101.2,371.7V379.5M102.5,375.8V385.8M103.7,370.5V374.0M105.0,379.2V383.7M106.2,370.4V374.7M107.5,365.3V382.1M108.7,374.3V377.6M110.0,379.8V388.7M111.2,373.2V376.5M112.5,380.7V384.9M113.7,377.3V386.5M115.0,369.4V379.4M116.2,372.9V377.4M117.5,373.0V377.0M118.7,373.7V377.1M120.0,374.3V376.8M121.2,371.0V383.2M122.5,361.9V381.7M123.7,367.7V372.3M125.0,363.6V373.2M126.2,375.1V378.1M127.5,360.7V363.8M128.7,362.8V366.0M129.9,363.6V367.3M131.2,364.0V372.5M132.4,364.3V371.0M133.7,363.6V366.1M134.9,358.4V365.8M136.2,362.0V368.0M137.4,356.7V362.6M138.7,354.4V364.4M139.9,352.9V360.4M141.2,353.9V360.7M142.4,352.4V356.0M143.7,346.3V360.9M144.9,352.4V359.9M146.2,348.3V356.9M147.4,350.5V353.2M148.7,351.1V360.3M149.9,344.0V348.0M151.2,346.3V351.0M152.4,342.7V351.8M153.7,342.8V352.9M154.9,349.2V353.5M156.2,345.6V351.2M157.4,346.4V353.4M158.7,353.1V356.3M159.9,345.0V351.8M161.2,337.0V351.2M162.4,350.7V356.6M163.7,346.9V353.5M164.9,355.3V361.4M166.2,351.3V354.1M167.4,351.0V354.0M168.7,359.1V362.4M169.9,359.8V363.3M171.2,362.7V366.6M172.4,361.0V365.0M173.7,360.0V364.0M174.9,362.2V365.9M176.2,358.0V369.0M177.4,365.5V369.3M178.7,364.6V367.5M179.9,352.3V369.5M181.2,369.5V375.1M182.4,366.9V372.8M183.7,374.6V379.6M184.9,366.1V372.4M186.2,366.9V374.0M187.4,364.2V377.7M188.7,366.8V371.0M189.9,369.4V373.3M191.2,372.9V375.6M192.4,365.9V390.4M193.7,369.4V372.0M194.9,373.4V376.4M196.2,368.7V374.6M197.4,369.9V373.6M198.7,377.9V382.4M199.9,372.4V376.2M201.2,372.7V377.1M202.4,375.8V383.9M203.7,383.6V387.9M204.9,376.5V380.8M206.2,376.3V380.8M207.4,373.3V378.6M208.7,374.5V378.1M209.9,374.8V382.5M211.2,378.0V383.4M212.4,374.5V381.5M213.7,378.3V381.5M214.9,369.1V382.4M216.2,371.0V382.4M217.4,381.3V385.8M218.7,375.1V389.5M219.9,371.3V377.2M221.2,368.4V383.2M222.4,368.1V375.1M223.7,378.1V381.5M224.9,376.8V380.6M226.2,382.0V387.4M227.4,380.8V384.2M228.7,379.7V383.7M229.9,384.1V388.1" fill="none" stroke="#30a0c0" stroke-width="1.5"/>
<polyline points="70.5,379.3 71.5,379.3 72.5,379.3 73.5,379.3 74.5,379.3 75.5,379.3 76.5,379.3 77.5,379.3 78.5,379.3 79.5,379.3 80.5,379.3 81.5,379.3 82.5,379.3 83.5,379.3 84.5,379.3 85.5,379.3 86.5,379.3 87.5,379.3 88.5,379.3 89.5,379.2 90.5,379.2 91.5,379.2 92.5,379.2 93.5,379.1 94.5,379.1 95.5,379.1 96.5,379.0 97.5,379.0 98.5,378.9 99.5,378.9 100.5,378.8 101.5,378.7 102.5,378.6 103.5,378.5 104.5,378.4 105.5,378.2 106.5,378.1 107.5,377.9 108.5,377.7 109.5,377.5 110.5,377.2 111.5,377.0 112.5,376.7 113.5,376.4 114.5,376.0 115.5,375.6 116.5,375.2 117.5,374.8 118.5,374.3 119.5,373.8 120.5,373.3 121.5,372.7 122.5,372.1 123.5,371.4 124.5,370.7 125.5,370.0 126.5,369.3 127.5,368.5 128.5,367.7 129.5,366.8 130.5,366.0 131.5,365.1 132.5,364.2 133.5,363.3 134.5,362.4 135.5,361.4 136.5,360.5 137.5,359.6 138.5,358.7 139.5,357.8 140.5,356.9 141.5,356.1 142.5,355.3 143.5,354.5 144.5,353.8 145.5,353.1 146.5,352.4 147.5,351.9 148.5,351.4 149.5,350.9 150.5,350.6 151.5,350.3 152.5,350.0 153.5,349.9 154.5,349.8 155.5,349.9 156.5,350.0 157.5,350.1 158.5,350.4 159.5,350.7 160.5,351.1 161.5,351.6 162.5,352.1 163.5,352.7 164.5,353.3 165.5,354.0 166.5,354.8 167.5,355.6 168.5,356.4 169.5,357.3 170.5,358.2 171.5,359.1 172.5,360.0 173.5,360.9 174.5,361.8 175.5,362.7 176.5,363.7 177.5,364.6 178.5,365.5 179.5,366.3 180.5,367.2 181.5,368.0 182.5,368.8 183.5,369.6 184.5,370.3 185.5,371.0 186.5,371.7 187.5,372.3 188.5,372.9 189.5,373.5 190.5,374.0 191.5,374.5 192.5,375.0 193.5,375.4 194.5,375.8 195.5,376.1 196.5,376.5 197.5,376.8 198.5,377.1 199.5,377.3 200.5,377.6 201.5,377.8 202.5,377.9 203.5,378.1 204.5,378.3 205.5,378.4 206.5,378.5 207.5,378.6 208.5,378.7 209.5,378.8 210.5,378.9 211.5,378.9 212.5,379.0 213.5,379.1 214.5,379.1 215.5,379.1 216.5,379.2 217.5,379.2 218.5,379.2 219.5,379.2 220.5,379.3 221.5,379.3 222.5,379.3 223.5,379.3 224.5,379.3 225.5,379.3 226.5,379.3 227.5,379.3 228.5,379.3 229.5,379.3 230.5,379.3" fill="none" stroke="#1e1410" stroke-width="1.35"/>
<path d="M71.2,392.2V396.1M72.5,394.7V405.4M73.7,390.4V397.3M75.0,390.4V394.7M76.2,385.8V389.8M77.5,391.2V398.2M78.7,388.3V393.9M80.0,391.0V396.2M81.2,397.0V400.2M82.5,391.1V396.3M83.7,383.9V392.0M85.0,382.9V397.9M86.2,390.9V403.1M87.5,390.8V395.9M88.7,388.0V391.4M90.0,383.1V388.0M91.2,397.0V401.2M92.5,391.7V399.2M93.7,379.3V393.9M95.0,388.5V392.1M96.2,383.0V387.0M97.5,396.5V404.0M98.7,387.3V394.0M100.0,384.3V391.2M101.2,386.0V388.9M102.5,387.3V403.9M103.7,391.0V396.9M105.0,391.5V399.3M106.2,387.2V399.6M107.5,389.6V399.3M108.7,388.5V394.7M110.0,382.0V395.2M111.2,389.7V393.4M112.5,390.9V393.5M113.7,391.8V396.4M115.0,384.8V390.7M116.2,386.5V391.2M117.5,387.5V392.1M118.7,387.1V395.7M120.0,385.7V397.5M121.2,383.7V387.0M122.5,378.2V382.5M123.7,383.2V386.8M125.0,372.8V391.9M126.2,387.2V390.9M127.5,372.2V378.1M128.7,371.3V376.4M129.9,374.4V376.9M131.2,379.0V382.9M132.4,369.3V376.4M133.7,370.3V380.9M134.9,368.1V381.5M136.2,372.7V375.5M137.4,367.5V375.8M138.7,366.0V375.8M139.9,360.5V369.4M141.2,369.3V372.2M142.4,365.4V372.0M143.7,364.8V367.0M144.9,357.7V372.8M146.2,354.7V365.1M147.4,367.3V372.5M148.7,363.2V368.2M149.9,355.4V360.9M151.2,351.6V364.7M152.4,355.0V359.0M153.7,354.2V359.6M154.9,354.7V359.1M156.2,359.3V362.8M157.4,359.7V363.1M158.7,351.7V364.2M159.9,358.5V369.3M161.2,359.2V361.8M162.4,361.0V368.1M163.7,358.3V361.4M164.9,361.7V364.7M166.2,358.8V367.5M167.4,357.3V361.4M168.7,364.4V367.8M169.9,363.9V367.1M171.2,361.0V373.4M172.4,365.7V369.5M173.7,365.8V372.1M174.9,363.5V370.4M176.2,371.4V379.1M177.4,376.4V380.3M178.7,365.5V375.1M179.9,371.9V378.9M181.2,369.0V374.4M182.4,374.1V388.5M183.7,379.2V382.7M184.9,379.2V383.4M186.2,384.4V390.3M187.4,379.9V382.9M188.7,382.8V392.8M189.9,386.0V391.5M191.2,381.8V393.5M192.4,379.6V384.3M193.7,388.3V391.6M194.9,387.3V391.0M196.2,384.0V392.5M197.4,389.7V394.6M198.7,391.2V394.1M199.9,386.5V390.2M201.2,386.3V391.6M202.4,387.5V392.1M203.7,387.5V393.0M204.9,384.1V401.2M206.2,382.6V392.2M207.4,378.6V398.7M208.7,381.6V397.3M209.9,384.6V388.5M211.2,386.6V391.5M212.4,387.7V392.6M213.7,389.5V394.9M214.9,388.2V392.2M216.2,387.6V392.8M217.4,390.3V400.8M218.7,389.3V394.1M219.9,385.9V400.8M221.2,396.0V404.6M222.4,388.8V392.6M223.7,383.2V386.7M224.9,389.5V394.1M226.2,392.7V401.4M227.4,386.0V393.6M228.7,394.3V397.4M229.9,390.5V400.6" fill="none" stroke="#3090d0" stroke-width="1.5"/>
<polyline points="70.5,392.2 71.5,392.2 72.5,392.2 73.5,392.2 74.5,392.2 75.5,392.2 76.5,392.2 77.5,392.2 78.5,392.2 79.5,392.2 80.5,392.2 81.5,392.2 82.5,392.2 83.5,392.2 84.5,392.2 85.5,392.2 86.5,392.2 87.5,392.2 88.5,392.2 89.5,392.1 90.5,392.1 91.5,392.1 92.5,392.1 93.5,392.0 94.5,392.0 95.5,391.9 96.5,391.9 97.5,391.8 98.5,391.8 99.5,391.7 100.5,391.6 101.5,391.5 102.5,391.4 103.5,391.2 104.5,391.1 105.5,390.9 106.5,390.8 107.5,390.6 108.5,390.3 109.5,390.1 110.5,389.8 111.5,389.5 112.5,389.2 113.5,388.8 114.5,388.4 115.5,388.0 116.5,387.5 117.5,387.1 118.5,386.5 119.5,385.9 120.5,385.3 121.5,384.7 122.5,384.0 123.5,383.3 124.5,382.5 125.5,381.7 126.5,380.9 127.5,380.0 128.5,379.1 129.5,378.2 130.5,377.2 131.5,376.2 132.5,375.2 133.5,374.2 134.5,373.2 135.5,372.1 136.5,371.1 137.5,370.1 138.5,369.1 139.5,368.1 140.5,367.1 141.5,366.2 142.5,365.3 143.5,364.4 144.5,363.6 145.5,362.8 146.5,362.1 147.5,361.5 148.5,360.9 149.5,360.5 150.5,360.1 151.5,359.7 152.5,359.5 153.5,359.3 154.5,359.3 155.5,359.3 156.5,359.4 157.5,359.6 158.5,359.8 159.5,360.2 160.5,360.6 161.5,361.2 162.5,361.7 163.5,362.4 164.5,363.1 165.5,363.9 166.5,364.7 167.5,365.6 168.5,366.5 169.5,367.5 170.5,368.5 171.5,369.5 172.5,370.5 173.5,371.5 174.5,372.5 175.5,373.6 176.5,374.6 177.5,375.6 178.5,376.6 179.5,377.6 180.5,378.5 181.5,379.5 182.5,380.3 183.5,381.2 184.5,382.0 185.5,382.8 186.5,383.6 187.5,384.3 188.5,385.0 189.5,385.6 190.5,386.2 191.5,386.7 192.5,387.3 193.5,387.7 194.5,388.2 195.5,388.6 196.5,389.0 197.5,389.3 198.5,389.6 199.5,389.9 200.5,390.2 201.5,390.4 202.5,390.6 203.5,390.8 204.5,391.0 205.5,391.2 206.5,391.3 207.5,391.4 208.5,391.5 209.5,391.6 210.5,391.7 211.5,391.8 212.5,391.9 213.5,391.9 214.5,392.0 215.5,392.0 216.5,392.0 217.5,392.1 218.5,392.1 219.5,392.1 220.5,392.1 221.5,392.2 222.5,392.2 223.5,392.2 224.5,392.2 225.5,392.2 226.5,392.2 227.5,392.2 228.5,392.2 229.5,392.2 230.5,392.2" fill="none" stroke="#1e1410" stroke-width="1.35"/>
<path d="M71.2,403.2V409.1M72.5,398.9V402.7M73.7,399.1V416.4M75.0,395.3V400.8M76.2,403.5V409.2M77.5,402.0V405.5M78.7,404.8V411.3M80.0,395.5V411.2M81.2,409.0V412.1M82.5,401.4V412.1M83.7,400.7V404.7M85.0,393.5V407.5M86.2,402.3V410.6M87.5,411.4V415.9M88.7,401.1V408.9M90.0,406.7V415.3M91.2,397.9V412.2M92.5,398.9V405.0M93.7,408.1V414.0M95.0,412.7V417.4M96.2,400.9V408.7M97.5,396.5V414.6M98.7,401.9V406.5M100.0,397.5V403.7M101.2,403.8V409.8M102.5,401.4V405.8M103.7,397.1V401.9M105.0,403.8V408.4M106.2,390.0V408.4M107.5,402.5V406.3M108.7,398.0V410.4M110.0,403.5V411.6M111.2,392.6V400.9M112.5,404.9V408.7M113.7,393.2V409.1M115.0,399.1V403.8M116.2,395.9V398.6M117.5,397.2V400.9M118.7,395.0V397.3M120.0,398.5V401.2M121.2,392.5V399.4M122.5,391.5V403.4M123.7,390.6V393.9M125.0,399.0V406.1M126.2,383.1V392.0M127.5,390.6V395.1M128.7,391.4V395.9M129.9,382.8V391.3M131.2,389.3V395.5M132.4,383.1V386.5M133.7,378.6V382.3M134.9,369.5V393.6M136.2,381.5V385.0M137.4,376.0V386.8M138.7,382.6V388.1M139.9,374.1V379.6M141.2,374.9V378.5M142.4,376.9V380.4M143.7,369.2V376.3M144.9,367.8V374.0M146.2,367.5V372.4M147.4,374.3V376.9M148.7,373.6V377.1M149.9,367.7V371.4M151.2,375.5V378.7M152.4,371.7V375.4M153.7,369.2V381.5M154.9,368.7V379.3M156.2,365.5V370.5M157.4,369.3V373.0M158.7,369.8V374.3M159.9,369.9V373.8M161.2,370.9V374.3M162.4,372.4V376.4M163.7,372.4V375.7M164.9,374.9V381.1M166.2,374.1V381.3M167.4,373.0V376.4M168.7,372.7V379.8M169.9,378.4V381.7M171.2,378.3V380.6M172.4,380.5V384.1M173.7,383.9V389.0M174.9,381.8V389.1M176.2,388.4V392.1M177.4,387.2V390.4M178.7,389.8V394.4M179.9,392.4V395.5M181.2,389.4V391.9M182.4,390.7V394.0M183.7,388.5V394.1M184.9,392.2V398.7M186.2,388.9V405.8M187.4,398.5V402.3M188.7,402.6V405.5M189.9,391.8V398.3M191.2,398.5V401.3M192.4,395.6V399.1M193.7,389.3V404.8M194.9,399.0V405.5M196.2,392.5V403.2M197.4,399.6V403.0M198.7,407.2V411.3M199.9,390.5V409.1M201.2,401.2V406.5M202.4,396.4V401.8M203.7,401.1V408.6M204.9,400.0V406.5M206.2,402.2V410.0M207.4,414.0V418.6M208.7,403.7V408.7M209.9,397.1V402.4M211.2,387.0V411.3M212.4,401.7V407.1M213.7,411.4V416.8M214.9,401.8V406.1M216.2,398.7V405.2M217.4,395.3V404.2M218.7,401.1V409.0M219.9,405.4V411.0M221.2,394.8V400.3M222.4,389.0V403.8M223.7,405.6V409.9M224.9,407.6V413.0M226.2,402.2V410.6M227.4,396.9V402.3M228.7,402.4V413.4M229.9,398.3V402.7" fill="none" stroke="#2a78c8" stroke-width="1.5"/>
<polyline points="70.5,405.2 71.5,405.2 72.5,405.2 73.5,405.2 74.5,405.2 75.5,405.2 76.5,405.1 77.5,405.1 78.5,405.1 79.5,405.1 80.5,405.1 81.5,405.1 82.5,405.1 83.5,405.1 84.5,405.1 85.5,405.1 86.5,405.1 87.5,405.1 88.5,405.1 89.5,405.0 90.5,405.0 91.5,405.0 92.5,404.9 93.5,404.9 94.5,404.9 95.5,404.8 96.5,404.8 97.5,404.7 98.5,404.6 99.5,404.5 100.5,404.4 101.5,404.3 102.5,404.2 103.5,404.1 104.5,403.9 105.5,403.7 106.5,403.5 107.5,403.3 108.5,403.1 109.5,402.8 110.5,402.5 111.5,402.2 112.5,401.9 113.5,401.5 114.5,401.1 115.5,400.6 116.5,400.1 117.5,399.6 118.5,399.0 119.5,398.4 120.5,397.8 121.5,397.1 122.5,396.4 123.5,395.6 124.5,394.8 125.5,394.0 126.5,393.1 127.5,392.2 128.5,391.2 129.5,390.2 130.5,389.2 131.5,388.2 132.5,387.2 133.5,386.1 134.5,385.0 135.5,384.0 136.5,382.9 137.5,381.8 138.5,380.8 139.5,379.7 140.5,378.7 141.5,377.7 142.5,376.8 143.5,375.9 144.5,375.1 145.5,374.3 146.5,373.6 147.5,372.9 148.5,372.3 149.5,371.8 150.5,371.4 151.5,371.1 152.5,370.8 153.5,370.6 154.5,370.6 155.5,370.6 156.5,370.7 157.5,370.9 158.5,371.2 159.5,371.6 160.5,372.0 161.5,372.5 162.5,373.2 163.5,373.8 164.5,374.6 165.5,375.4 166.5,376.3 167.5,377.2 168.5,378.1 169.5,379.1 170.5,380.1 171.5,381.2 172.5,382.2 173.5,383.3 174.5,384.4 175.5,385.5 176.5,386.5 177.5,387.6 178.5,388.6 179.5,389.6 180.5,390.6 181.5,391.6 182.5,392.5 183.5,393.4 184.5,394.3 185.5,395.1 186.5,395.9 187.5,396.7 188.5,397.4 189.5,398.1 190.5,398.7 191.5,399.3 192.5,399.8 193.5,400.3 194.5,400.8 195.5,401.2 196.5,401.6 197.5,402.0 198.5,402.4 199.5,402.7 200.5,402.9 201.5,403.2 202.5,403.4 203.5,403.6 204.5,403.8 205.5,404.0 206.5,404.1 207.5,404.3 208.5,404.4 209.5,404.5 210.5,404.6 211.5,404.7 212.5,404.7 213.5,404.8 214.5,404.8 215.5,404.9 216.5,404.9 217.5,405.0 218.5,405.0 219.5,405.0 220.5,405.0 221.5,405.1 222.5,405.1 223.5,405.1 224.5,405.1 225.5,405.1 226.5,405.1 227.5,405.1 228.5,405.1 229.5,405.1 230.5,405.1" fill="none" stroke="#1e1410" stroke-width="1.35"/>
</g>
<rect x="70.5" y="69.7" width="159.8" height="348.5" fill="none" stroke="#111" stroke-width="1.3"/>
<line x1="69" y1="95.3" x2="78" y2="95.3" stroke="#111" stroke-width="1.2"/>
<line x1="69" y1="146.5" x2="78" y2="146.5" stroke="#111" stroke-width="1.2"/>
<line x1="104.4" y1="418.2" x2="104.4" y2="412.2" stroke="#111" stroke-width="1.2"/>
<line x1="138.6" y1="418.2" x2="138.6" y2="412.2" stroke="#111" stroke-width="1.2"/>
<line x1="173.3" y1="418.2" x2="173.3" y2="412.2" stroke="#111" stroke-width="1.2"/>
<line x1="208" y1="418.2" x2="208" y2="412.2" stroke="#111" stroke-width="1.2"/>
<text x="32.2" y="202.8" font-size="14" fill="#111" textLength="31.10" lengthAdjust="spacingAndGlyphs">20 K</text>
<text x="33.3" y="217.8" font-size="14" fill="#111" textLength="29.70" lengthAdjust="spacingAndGlyphs">19 K</text>
<text x="33.3" y="232.8" font-size="14" fill="#111" textLength="30.00" lengthAdjust="spacingAndGlyphs">18 K</text>
<text x="33.9" y="245.8" font-size="14" fill="#111" textLength="29.40" lengthAdjust="spacingAndGlyphs">17 K</text>
<text x="34.2" y="258.3" font-size="14" fill="#111" textLength="29.10" lengthAdjust="spacingAndGlyphs">16 K</text>
<text x="33.9" y="271.7" font-size="14" fill="#111" textLength="29.40" lengthAdjust="spacingAndGlyphs">15 K</text>
<text x="33.3" y="284.4" font-size="14" fill="#111" textLength="30.00" lengthAdjust="spacingAndGlyphs">14 K</text>
<text x="33.3" y="297.2" font-size="14" fill="#111" textLength="30.00" lengthAdjust="spacingAndGlyphs">13 K</text>
<text x="33.3" y="310.4" font-size="14" fill="#111" textLength="29.80" lengthAdjust="spacingAndGlyphs">12 K</text>
<text x="33.8" y="322.9" font-size="14" fill="#111" textLength="29.40" lengthAdjust="spacingAndGlyphs">11 K</text>
<text x="33.8" y="335.4" font-size="14" fill="#111" textLength="29.60" lengthAdjust="spacingAndGlyphs">10 K</text>
<text x="41.7" y="348.3" font-size="14" fill="#111" textLength="22.20" lengthAdjust="spacingAndGlyphs">9 K</text>
<text x="41.1" y="360.6" font-size="14" fill="#111" textLength="22.80" lengthAdjust="spacingAndGlyphs">8 K</text>
<text x="41.1" y="371.7" font-size="14" fill="#111" textLength="22.80" lengthAdjust="spacingAndGlyphs">7 K</text>
<text x="41.7" y="385.4" font-size="14" fill="#111" textLength="22.50" lengthAdjust="spacingAndGlyphs">6 K</text>
<text x="43.75" y="397.5" font-size="14" fill="#111" textLength="21.25" lengthAdjust="spacingAndGlyphs">5 K</text>
<text x="43.75" y="410.0" font-size="14" fill="#111" textLength="21.65" lengthAdjust="spacingAndGlyphs">4 K</text>
<text x="69.6" y="432.8" font-size="14" fill="#222" text-anchor="middle" font-weight="normal" font-style="normal" textLength="35.8" lengthAdjust="spacingAndGlyphs" >110.4</text>
<text x="138.6" y="432.8" font-size="14" fill="#222" text-anchor="middle" font-weight="normal" font-style="normal" textLength="36.2" lengthAdjust="spacingAndGlyphs" >110.6</text>
<text x="208.6" y="432.8" font-size="14" fill="#222" text-anchor="middle" font-weight="normal" font-style="normal" textLength="37.2" lengthAdjust="spacingAndGlyphs" >110.8</text>
<text x="88.6" y="451.6" font-size="14" fill="#222" text-anchor="start" font-weight="normal" font-style="normal" textLength="114" lengthAdjust="spacingAndGlyphs" >Frequency (MHz)</text>
<text x="36.4" y="87.6" font-size="16" font-weight="bold" fill="#222" stroke="#222" stroke-width="0.6" textLength="10.6" lengthAdjust="spacingAndGlyphs">a</text>
<path d="M412.5,87.6 H615.4 V217.0 H412.5 Z" fill="none" stroke="#111" stroke-width="1.2"/>
<line x1="410" y1="195.4" x2="418.3" y2="195.4" stroke="#111" stroke-width="1.1"/>
<line x1="410" y1="173.9" x2="418.3" y2="173.9" stroke="#111" stroke-width="1.1"/>
<line x1="410" y1="152.3" x2="418.3" y2="152.3" stroke="#111" stroke-width="1.1"/>
<line x1="410" y1="130.7" x2="418.3" y2="130.7" stroke="#111" stroke-width="1.1"/>
<line x1="410" y1="109.2" x2="418.3" y2="109.2" stroke="#111" stroke-width="1.1"/>
<line x1="437.9" y1="217.0" x2="437.9" y2="210.5" stroke="#111" stroke-width="1.1"/>
<line x1="463.2" y1="217.0" x2="463.2" y2="210.5" stroke="#111" stroke-width="1.1"/>
<line x1="488.6" y1="217.0" x2="488.6" y2="210.5" stroke="#111" stroke-width="1.1"/>
<line x1="514.0" y1="217.0" x2="514.0" y2="210.5" stroke="#111" stroke-width="1.1"/>
<line x1="539.3" y1="217.0" x2="539.3" y2="210.5" stroke="#111" stroke-width="1.1"/>
<line x1="564.7" y1="217.0" x2="564.7" y2="210.5" stroke="#111" stroke-width="1.1"/>
<line x1="590.0" y1="217.0" x2="590.0" y2="210.5" stroke="#111" stroke-width="1.1"/>
<text x="407" y="93.1" font-size="14" fill="#333" text-anchor="end" font-weight="normal" font-style="normal" textLength="21" lengthAdjust="spacingAndGlyphs" >0.6</text>
<text x="407" y="136.2" font-size="14" fill="#333" text-anchor="end" font-weight="normal" font-style="normal" textLength="21" lengthAdjust="spacingAndGlyphs" >0.4</text>
<text x="407" y="179.4" font-size="14" fill="#333" text-anchor="end" font-weight="normal" font-style="normal" textLength="21" lengthAdjust="spacingAndGlyphs" >0.2</text>
<text x="407" y="222.5" font-size="14" fill="#333" text-anchor="end" font-weight="normal" font-style="normal" textLength="21" lengthAdjust="spacingAndGlyphs" >0.0</text>
<text x="410.0" y="235" font-size="14" fill="#333" text-anchor="middle" font-weight="normal" font-style="normal" textLength="21.5" lengthAdjust="spacingAndGlyphs" >0.0</text>
<text x="460.7" y="235" font-size="14" fill="#333" text-anchor="middle" font-weight="normal" font-style="normal" textLength="21.5" lengthAdjust="spacingAndGlyphs" >0.4</text>
<text x="511.5" y="235" font-size="14" fill="#333" text-anchor="middle" font-weight="normal" font-style="normal" textLength="21.5" lengthAdjust="spacingAndGlyphs" >0.8</text>
<text x="562.2" y="235" font-size="14" fill="#333" text-anchor="middle" font-weight="normal" font-style="normal" textLength="21.5" lengthAdjust="spacingAndGlyphs" >1.2</text>
<text x="612.9" y="235" font-size="14" fill="#333" text-anchor="middle" font-weight="normal" font-style="normal" textLength="21.5" lengthAdjust="spacingAndGlyphs" >1.6</text>
<text x="440" y="255.5" font-size="14" fill="#333" textLength="149.5" lengthAdjust="spacingAndGlyphs"><tspan font-style="italic" font-family="Liberation Serif" font-size="16">χ</tspan> (×10<tspan font-size="10" dy="-5">−3</tspan><tspan dy="5"> e.m.u. mol</tspan><tspan font-size="10" dy="-5">−1</tspan><tspan dy="5">)</tspan></text>
<text transform="translate(369.3,175) rotate(-90)" x="0" y="0" font-size="14" fill="#333" textLength="48" lengthAdjust="spacingAndGlyphs"><tspan font-style="italic">K</tspan><tspan font-size="9" dy="3">tot</tspan><tspan dy="-3"> (%)</tspan></text>
<text x="348.3" y="90.8" font-size="15" font-weight="bold" fill="#222" stroke="#222" stroke-width="0.6" textLength="10.4" lengthAdjust="spacingAndGlyphs">b</text>
<line x1="412.5" y1="105.8" x2="615.4" y2="97.7" stroke="#7880b0" stroke-width="1"/>
<line x1="412.5" y1="200.6" x2="615.4" y2="184.2" stroke="#e0b070" stroke-width="1"/>
<circle cx="495" cy="102.8" r="2.6" fill="#3a3f98"/>
<circle cx="496.5" cy="102.7" r="2.6" fill="#3a3f98"/>
<circle cx="498" cy="102.7" r="2.6" fill="#3a3f98"/>
<circle cx="499.5" cy="102.6" r="2.6" fill="#3a3f98"/>
<circle cx="501" cy="102.6" r="2.6" fill="#3a3f98"/>
<circle cx="502.5" cy="102.5" r="2.6" fill="#3a3f98"/>
<circle cx="504" cy="102.4" r="2.6" fill="#3a3f98"/>
<circle cx="505.5" cy="102.4" r="2.6" fill="#3a3f98"/>
<circle cx="507" cy="102.3" r="2.6" fill="#3a3f98"/>
<circle cx="512.3" cy="102.1" r="2.6" fill="#3a3f98"/>
<circle cx="518.5" cy="101.9" r="2.6" fill="#3a3f98"/>
<circle cx="525" cy="101.6" r="2.6" fill="#3a3f98"/>
<circle cx="535" cy="101.2" r="2.6" fill="#3a3f98"/>
<circle cx="549" cy="100.7" r="2.6" fill="#3a3f98"/>
<circle cx="570.4" cy="99.8" r="2.6" fill="#3a3f98"/>
<rect x="489.8" y="192.1" width="6.4" height="6.4" fill="#e0a030"/>
<rect x="491.8" y="191.9" width="6.4" height="6.4" fill="#e0a030"/>
<rect x="493.8" y="191.8" width="6.4" height="6.4" fill="#e0a030"/>
<rect x="495.8" y="191.6" width="6.4" height="6.4" fill="#e0a030"/>
<rect x="497.8" y="191.4" width="6.4" height="6.4" fill="#e0a030"/>
<rect x="499.8" y="191.3" width="6.4" height="6.4" fill="#e0a030"/>
<rect x="501.8" y="191.1" width="6.4" height="6.4" fill="#e0a030"/>
<rect x="504.8" y="190.9" width="6.4" height="6.4" fill="#e0a030"/>
<rect x="507.8" y="190.6" width="6.4" height="6.4" fill="#e0a030"/>
<rect x="510.8" y="190.4" width="6.4" height="6.4" fill="#e0a030"/>
<rect x="513.8" y="190.2" width="6.4" height="6.4" fill="#e0a030"/>
<rect x="516.8" y="189.9" width="6.4" height="6.4" fill="#e0a030"/>
<rect x="520.8" y="189.6" width="6.4" height="6.4" fill="#e0a030"/>
<rect x="523.8" y="189.3" width="6.4" height="6.4" fill="#e0a030"/>
<rect x="531.5999999999999" y="188.7" width="6.4" height="6.4" fill="#e0a030"/>
<rect x="545.0999999999999" y="187.6" width="6.4" height="6.4" fill="#e0a030"/>
<rect x="566.8" y="185.9" width="6.4" height="6.4" fill="#e0a030"/>
<text x="543.5" y="119.2" font-size="14" fill="#222" text-anchor="start" font-weight="normal" font-style="normal" textLength="21" lengthAdjust="spacingAndGlyphs" >Co</text>
<text x="543.5" y="178.1" font-size="14" fill="#222" text-anchor="start" font-weight="normal" font-style="normal" textLength="38" lengthAdjust="spacingAndGlyphs" >Ga(1)</text>
<rect x="360" y="336.3" width="300" height="205" fill="#fff"/>
<path d="M433.2,350.4 H587.4 V506.2 H433.2 Z" fill="none" stroke="#111" stroke-width="1.2"/>
<line x1="433.2" y1="467.2" x2="440.2" y2="467.2" stroke="#111" stroke-width="1.1"/>
<line x1="433.2" y1="428.3" x2="440.2" y2="428.3" stroke="#111" stroke-width="1.1"/>
<line x1="433.2" y1="389.4" x2="440.2" y2="389.4" stroke="#111" stroke-width="1.1"/>
<line x1="458.9" y1="506.2" x2="458.9" y2="500.7" stroke="#111" stroke-width="1.1"/>
<line x1="484.6" y1="506.2" x2="484.6" y2="500.7" stroke="#111" stroke-width="1.1"/>
<line x1="510.3" y1="506.2" x2="510.3" y2="500.7" stroke="#111" stroke-width="1.1"/>
<line x1="536.0" y1="506.2" x2="536.0" y2="500.7" stroke="#111" stroke-width="1.1"/>
<line x1="561.7" y1="506.2" x2="561.7" y2="500.7" stroke="#111" stroke-width="1.1"/>
<line x1="581.9" y1="374.3" x2="588.9" y2="374.3" stroke="#111" stroke-width="1.1"/>
<line x1="584.4" y1="398.4" x2="587.9" y2="398.4" stroke="#111" stroke-width="1.1"/>
<line x1="587.4" y1="446.7" x2="591.4" y2="446.7" stroke="#111" stroke-width="1.1"/>
<line x1="581.9" y1="470.4" x2="588.9" y2="470.4" stroke="#111" stroke-width="1.1"/>
<line x1="587.4" y1="493.3" x2="591.4" y2="493.3" stroke="#111" stroke-width="1.1"/>
<text x="423.8" y="355.7" font-size="14" fill="#d6a65c" text-anchor="end" font-weight="normal" font-style="normal" textLength="26" lengthAdjust="spacingAndGlyphs" >0.20</text>
<text x="423.8" y="394.8" font-size="14" fill="#d6a65c" text-anchor="end" font-weight="normal" font-style="normal" textLength="26" lengthAdjust="spacingAndGlyphs" >0.15</text>
<text x="423.8" y="434.3" font-size="14" fill="#d6a65c" text-anchor="end" font-weight="normal" font-style="normal" textLength="26" lengthAdjust="spacingAndGlyphs" >0.10</text>
<text x="423.8" y="473.0" font-size="14" fill="#d6a65c" text-anchor="end" font-weight="normal" font-style="normal" textLength="26" lengthAdjust="spacingAndGlyphs" >0.05</text>
<text x="423.8" y="513.2" font-size="14" fill="#d6a65c" text-anchor="end" font-weight="normal" font-style="normal" textLength="26" lengthAdjust="spacingAndGlyphs" >0.00</text>
<text x="592.4" y="380.2" font-size="14" fill="#3b3f7c" text-anchor="start" font-weight="normal" font-style="normal" textLength="28.6" lengthAdjust="spacingAndGlyphs" >0.56</text>
<text x="592.4" y="428.2" font-size="14" fill="#3b3f7c" text-anchor="start" font-weight="normal" font-style="normal" textLength="28.6" lengthAdjust="spacingAndGlyphs" >0.52</text>
<text x="592.4" y="476.3" font-size="14" fill="#3b3f7c" text-anchor="start" font-weight="normal" font-style="normal" textLength="28.6" lengthAdjust="spacingAndGlyphs" >0.48</text>
<text x="432.0" y="519.5" font-size="13" fill="#222" text-anchor="middle" font-weight="normal" font-style="normal" textLength="7" lengthAdjust="spacingAndGlyphs" >0</text>
<text x="483.4" y="519.5" font-size="13" fill="#222" text-anchor="middle" font-weight="normal" font-style="normal" textLength="15.5" lengthAdjust="spacingAndGlyphs" >20</text>
<text x="534.8" y="519.5" font-size="13" fill="#222" text-anchor="middle" font-weight="normal" font-style="normal" textLength="15.5" lengthAdjust="spacingAndGlyphs" >40</text>
<text x="586.2" y="519.5" font-size="13" fill="#222" text-anchor="middle" font-weight="normal" font-style="normal" textLength="15.5" lengthAdjust="spacingAndGlyphs" >60</text>
<rect x="424.5" y="509" width="5.4" height="13" fill="#fff"/>
<text x="495.8" y="535.6" font-size="13" fill="#222" textLength="27.5" lengthAdjust="spacingAndGlyphs"><tspan font-style="italic">T</tspan> (K)</text>
<text transform="translate(386.2,452.2) rotate(-90)" font-size="14" fill="#d6a65c" textLength="54.6" lengthAdjust="spacingAndGlyphs"><tspan font-size="8" dy="-5">71</tspan><tspan dy="5">K</tspan><tspan font-size="9" dy="3">tot</tspan><tspan dy="-3"> (%)</tspan></text>
<text transform="translate(641.2,457.2) rotate(-90)" font-size="14" fill="#3b3f7c" textLength="58.3" lengthAdjust="spacingAndGlyphs"><tspan font-size="8" dy="-5">59</tspan><tspan dy="5" font-style="italic">K</tspan><tspan font-size="9" dy="3">tot</tspan><tspan dy="-3"> (%)</tspan></text>
<text x="376.8" y="355.9" font-size="16.5" font-weight="bold" fill="#222" stroke="#222" stroke-width="0.6" textLength="10" lengthAdjust="spacingAndGlyphs">c</text>
<rect x="432" y="442.7" width="6" height="6" fill="#e2a232"/>
<rect x="434.4" y="442.7" width="6" height="6" fill="#e2a232"/>
<rect x="437.2" y="445.5" width="6" height="6" fill="#e2a232"/>
<rect x="440" y="447.4" width="6" height="6" fill="#e2a232"/>
<rect x="445.5" y="441.8" width="6" height="6" fill="#e2a232"/>
<rect x="449.2" y="442.7" width="6" height="6" fill="#e2a232"/>
<rect x="453" y="441" width="6" height="6" fill="#e2a232"/>
<rect x="456.6" y="435.3" width="6" height="6" fill="#e2a232"/>
<rect x="459.4" y="433.5" width="6" height="6" fill="#e2a232"/>
<rect x="462.2" y="430.7" width="6" height="6" fill="#e2a232"/>
<rect x="464" y="411.3" width="6" height="6" fill="#e2a232"/>
<rect x="466.3" y="405.7" width="6" height="6" fill="#e2a232"/>
<rect x="469.2" y="386.3" width="6" height="6" fill="#e2a232"/>
<rect x="471.4" y="367" width="6" height="6" fill="#e2a232"/>
<rect x="475" y="366.5" width="6" height="6" fill="#e2a232"/>
<rect x="478.8" y="367.8" width="6" height="6" fill="#e2a232"/>
<rect x="482.5" y="367.8" width="6" height="6" fill="#e2a232"/>
<rect x="495" y="370.5" width="6" height="6" fill="#e2a232"/>
<rect x="507.8" y="373.1" width="6" height="6" fill="#e2a232"/>
<rect x="520.6" y="374.8" width="6" height="6" fill="#e2a232"/>
<rect x="533.8" y="379.2" width="6" height="6" fill="#e2a232"/>
<rect x="546.3" y="381.3" width="6" height="6" fill="#e2a232"/>
<rect x="559.5" y="383.4" width="6" height="6" fill="#e2a232"/>
<rect x="585.2" y="391.9" width="6" height="6" fill="#e2a232"/>
<circle cx="443.9" cy="446.7" r="2.7" fill="#353a8c"/>
<circle cx="446.7" cy="445.7" r="2.7" fill="#353a8c"/>
<circle cx="448.5" cy="443" r="2.7" fill="#353a8c"/>
<circle cx="451.3" cy="445.7" r="2.7" fill="#353a8c"/>
<circle cx="454" cy="440.6" r="2.7" fill="#353a8c"/>
<circle cx="456.9" cy="435.6" r="2.7" fill="#353a8c"/>
<circle cx="458.7" cy="430" r="2.7" fill="#353a8c"/>
<circle cx="461.9" cy="425.9" r="2.7" fill="#353a8c"/>
<circle cx="464.3" cy="416.7" r="2.7" fill="#353a8c"/>
<circle cx="467" cy="405.4" r="2.7" fill="#353a8c"/>
<circle cx="469.3" cy="395.7" r="2.7" fill="#353a8c"/>
<circle cx="472" cy="382.8" r="2.7" fill="#353a8c"/>
<circle cx="474.4" cy="368.9" r="2.7" fill="#353a8c"/>
<circle cx="477.2" cy="367.6" r="2.7" fill="#353a8c"/>
<circle cx="479.6" cy="365.2" r="2.7" fill="#353a8c"/>
<circle cx="482.8" cy="368" r="2.7" fill="#353a8c"/>
<circle cx="485.2" cy="368.3" r="2.7" fill="#353a8c"/>
<circle cx="487.8" cy="367" r="2.7" fill="#353a8c"/>
<circle cx="497.6" cy="371.3" r="2.7" fill="#353a8c"/>
<circle cx="510.4" cy="372.2" r="2.7" fill="#353a8c"/>
<circle cx="523.6" cy="375.7" r="2.7" fill="#353a8c"/>
<circle cx="536.4" cy="377" r="2.7" fill="#353a8c"/>
<circle cx="549.3" cy="378.2" r="2.7" fill="#353a8c"/>
<circle cx="562.2" cy="381.7" r="2.7" fill="#353a8c"/>
<circle cx="575" cy="382.6" r="2.2" fill="#353a8c"/>
<circle cx="587.8" cy="383.75" r="2.7" fill="#353a8c"/>
</svg>
</body></html>
